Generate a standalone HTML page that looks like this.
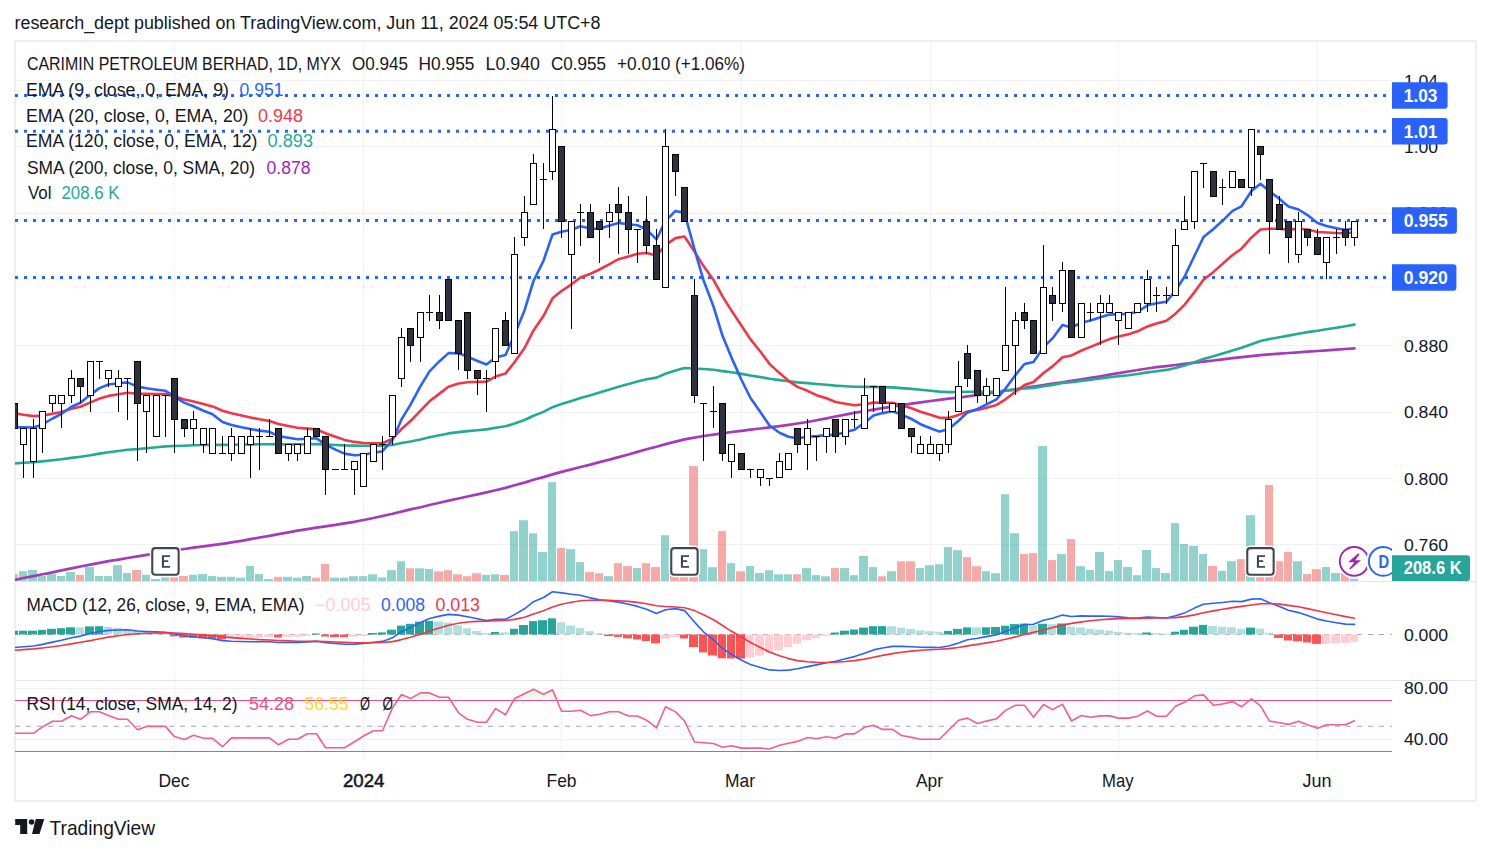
<!DOCTYPE html><html><head><meta charset="utf-8"><style>html,body{margin:0;padding:0;width:1491px;height:854px;overflow:hidden;background:#fff}</style></head><body><svg width="1491" height="854" viewBox="0 0 1491 854" style="position:absolute;left:0;top:0;font-family:'Liberation Sans',sans-serif">
<rect x="0" y="0" width="1491" height="854" fill="#ffffff"/>
<defs><clipPath id="cp"><rect x="15" y="41" width="1377" height="540.5"/></clipPath><clipPath id="cm"><rect x="15" y="582.5" width="1377" height="97.5"/></clipPath><clipPath id="cr"><rect x="15" y="681" width="1377" height="77.5"/></clipPath><linearGradient id="ob" x1="0" y1="0" x2="0" y2="1"><stop offset="0" stop-color="#4caf50" stop-opacity="0.22"/><stop offset="1" stop-color="#4caf50" stop-opacity="0.02"/></linearGradient></defs>
<text x="14.5" y="28.8" font-size="18" fill="#131722" font-weight="normal" text-anchor="start" textLength="586.0" lengthAdjust="spacingAndGlyphs">research_dept published on TradingView.com, Jun 11, 2024 05:54 UTC+8</text>
<line x1="174.5" y1="41" x2="174.5" y2="758.5" stroke="#f1f2f3" stroke-width="1"/>
<line x1="363.5" y1="41" x2="363.5" y2="758.5" stroke="#f1f2f3" stroke-width="1"/>
<line x1="561.5" y1="41" x2="561.5" y2="758.5" stroke="#f1f2f3" stroke-width="1"/>
<line x1="741.5" y1="41" x2="741.5" y2="758.5" stroke="#f1f2f3" stroke-width="1"/>
<line x1="930.5" y1="41" x2="930.5" y2="758.5" stroke="#f1f2f3" stroke-width="1"/>
<line x1="1118.5" y1="41" x2="1118.5" y2="758.5" stroke="#f1f2f3" stroke-width="1"/>
<line x1="1317.5" y1="41" x2="1317.5" y2="758.5" stroke="#f1f2f3" stroke-width="1"/>
<line x1="15" y1="80.5" x2="1392" y2="80.5" stroke="#f1f2f3" stroke-width="1"/>
<line x1="15" y1="146.5" x2="1392" y2="146.5" stroke="#f1f2f3" stroke-width="1"/>
<line x1="15" y1="213.5" x2="1392" y2="213.5" stroke="#f1f2f3" stroke-width="1"/>
<line x1="15" y1="279.5" x2="1392" y2="279.5" stroke="#f1f2f3" stroke-width="1"/>
<line x1="15" y1="345.5" x2="1392" y2="345.5" stroke="#f1f2f3" stroke-width="1"/>
<line x1="15" y1="412.5" x2="1392" y2="412.5" stroke="#f1f2f3" stroke-width="1"/>
<line x1="15" y1="478.5" x2="1392" y2="478.5" stroke="#f1f2f3" stroke-width="1"/>
<line x1="15" y1="544.5" x2="1392" y2="544.5" stroke="#f1f2f3" stroke-width="1"/>
<line x1="15" y1="688.5" x2="1392" y2="688.5" stroke="#f1f2f3" stroke-width="1"/>
<line x1="15" y1="739.5" x2="1392" y2="739.5" stroke="#f1f2f3" stroke-width="1"/>
<line x1="16" y1="581.5" x2="1475" y2="581.5" stroke="#e0e3eb" stroke-width="1"/>
<line x1="16" y1="680.5" x2="1475" y2="680.5" stroke="#e0e3eb" stroke-width="1"/>
<rect x="15" y="41" width="1461" height="760" fill="none" stroke="#eceef2" stroke-width="2"/>
<g clip-path="url(#cp)">
<rect x="10" y="574.1" width="8" height="6.9" fill="rgba(239,83,80,0.5)"/>
<rect x="19" y="571.2" width="8" height="9.8" fill="rgba(38,166,154,0.5)"/>
<rect x="28" y="570.0" width="9" height="11.0" fill="rgba(38,166,154,0.5)"/>
<rect x="38" y="576.0" width="8" height="5.0" fill="rgba(38,166,154,0.5)"/>
<rect x="47" y="574.1" width="9" height="6.9" fill="rgba(38,166,154,0.5)"/>
<rect x="57" y="576.0" width="8" height="5.0" fill="rgba(38,166,154,0.5)"/>
<rect x="66" y="572.0" width="9" height="9.0" fill="rgba(38,166,154,0.5)"/>
<rect x="76" y="574.8" width="8" height="6.2" fill="rgba(239,83,80,0.5)"/>
<rect x="85" y="567.1" width="9" height="13.9" fill="rgba(38,166,154,0.5)"/>
<rect x="95" y="576.0" width="8" height="5.0" fill="rgba(38,166,154,0.5)"/>
<rect x="104" y="576.0" width="8" height="5.0" fill="rgba(38,166,154,0.5)"/>
<rect x="113" y="565.2" width="9" height="15.8" fill="rgba(38,166,154,0.5)"/>
<rect x="123" y="572.9" width="8" height="8.1" fill="rgba(38,166,154,0.5)"/>
<rect x="132" y="570.0" width="9" height="11.0" fill="rgba(239,83,80,0.5)"/>
<rect x="142" y="574.8" width="8" height="6.2" fill="rgba(38,166,154,0.5)"/>
<rect x="151" y="579.0" width="9" height="2.0" fill="rgba(38,166,154,0.5)"/>
<rect x="161" y="577.2" width="8" height="3.8" fill="rgba(38,166,154,0.5)"/>
<rect x="170" y="577.2" width="8" height="3.8" fill="rgba(239,83,80,0.5)"/>
<rect x="179" y="576.0" width="9" height="5.0" fill="rgba(239,83,80,0.5)"/>
<rect x="189" y="574.8" width="8" height="6.2" fill="rgba(38,166,154,0.5)"/>
<rect x="198" y="574.1" width="9" height="6.9" fill="rgba(38,166,154,0.5)"/>
<rect x="208" y="576.0" width="8" height="5.0" fill="rgba(38,166,154,0.5)"/>
<rect x="217" y="576.8" width="9" height="4.2" fill="rgba(38,166,154,0.5)"/>
<rect x="227" y="576.8" width="8" height="4.2" fill="rgba(38,166,154,0.5)"/>
<rect x="236" y="577.7" width="9" height="3.3" fill="rgba(38,166,154,0.5)"/>
<rect x="246" y="565.9" width="8" height="15.1" fill="rgba(38,166,154,0.5)"/>
<rect x="255" y="574.1" width="8" height="6.9" fill="rgba(38,166,154,0.5)"/>
<rect x="264" y="579.0" width="9" height="2.0" fill="rgba(38,166,154,0.5)"/>
<rect x="274" y="576.8" width="8" height="4.2" fill="rgba(239,83,80,0.5)"/>
<rect x="283" y="576.8" width="9" height="4.2" fill="rgba(38,166,154,0.5)"/>
<rect x="293" y="577.7" width="8" height="3.3" fill="rgba(38,166,154,0.5)"/>
<rect x="302" y="576.0" width="9" height="5.0" fill="rgba(38,166,154,0.5)"/>
<rect x="312" y="577.7" width="8" height="3.3" fill="rgba(239,83,80,0.5)"/>
<rect x="321" y="564.0" width="8" height="17.0" fill="rgba(239,83,80,0.5)"/>
<rect x="330" y="577.7" width="9" height="3.3" fill="rgba(38,166,154,0.5)"/>
<rect x="340" y="577.7" width="8" height="3.3" fill="rgba(38,166,154,0.5)"/>
<rect x="349" y="576.2" width="9" height="4.8" fill="rgba(38,166,154,0.5)"/>
<rect x="359" y="576.2" width="8" height="4.8" fill="rgba(38,166,154,0.5)"/>
<rect x="368" y="574.3" width="9" height="6.7" fill="rgba(38,166,154,0.5)"/>
<rect x="378" y="577.4" width="8" height="3.6" fill="rgba(38,166,154,0.5)"/>
<rect x="387" y="570.2" width="9" height="10.8" fill="rgba(38,166,154,0.5)"/>
<rect x="397" y="561.3" width="8" height="19.7" fill="rgba(38,166,154,0.5)"/>
<rect x="406" y="568.3" width="8" height="12.7" fill="rgba(239,83,80,0.5)"/>
<rect x="415" y="568.3" width="9" height="12.7" fill="rgba(38,166,154,0.5)"/>
<rect x="425" y="569.0" width="8" height="12.0" fill="rgba(38,166,154,0.5)"/>
<rect x="434" y="571.4" width="9" height="9.6" fill="rgba(239,83,80,0.5)"/>
<rect x="444" y="570.2" width="8" height="10.8" fill="rgba(239,83,80,0.5)"/>
<rect x="453" y="574.3" width="9" height="6.7" fill="rgba(239,83,80,0.5)"/>
<rect x="463" y="576.2" width="8" height="4.8" fill="rgba(239,83,80,0.5)"/>
<rect x="472" y="573.3" width="9" height="7.7" fill="rgba(239,83,80,0.5)"/>
<rect x="482" y="575.0" width="8" height="6.0" fill="rgba(38,166,154,0.5)"/>
<rect x="491" y="574.3" width="8" height="6.7" fill="rgba(38,166,154,0.5)"/>
<rect x="500" y="575.0" width="9" height="6.0" fill="rgba(239,83,80,0.5)"/>
<rect x="510" y="531.1" width="8" height="49.9" fill="rgba(38,166,154,0.5)"/>
<rect x="519" y="520.2" width="9" height="60.8" fill="rgba(38,166,154,0.5)"/>
<rect x="529" y="533.3" width="8" height="47.7" fill="rgba(38,166,154,0.5)"/>
<rect x="538" y="552.1" width="9" height="28.9" fill="rgba(38,166,154,0.5)"/>
<rect x="548" y="482.1" width="8" height="98.9" fill="rgba(38,166,154,0.5)"/>
<rect x="557" y="548.0" width="8" height="33.0" fill="rgba(239,83,80,0.5)"/>
<rect x="566" y="549.2" width="9" height="31.8" fill="rgba(38,166,154,0.5)"/>
<rect x="576" y="562.2" width="8" height="18.8" fill="rgba(38,166,154,0.5)"/>
<rect x="585" y="572.1" width="9" height="8.9" fill="rgba(239,83,80,0.5)"/>
<rect x="595" y="573.3" width="8" height="7.7" fill="rgba(239,83,80,0.5)"/>
<rect x="604" y="576.2" width="9" height="4.8" fill="rgba(38,166,154,0.5)"/>
<rect x="614" y="563.2" width="8" height="17.8" fill="rgba(239,83,80,0.5)"/>
<rect x="623" y="566.1" width="9" height="14.9" fill="rgba(239,83,80,0.5)"/>
<rect x="633" y="568.0" width="8" height="13.0" fill="rgba(38,166,154,0.5)"/>
<rect x="642" y="563.2" width="8" height="17.8" fill="rgba(239,83,80,0.5)"/>
<rect x="651" y="567.1" width="9" height="13.9" fill="rgba(239,83,80,0.5)"/>
<rect x="661" y="535.2" width="8" height="45.8" fill="rgba(38,166,154,0.5)"/>
<rect x="670" y="565.0" width="9" height="16.0" fill="rgba(239,83,80,0.5)"/>
<rect x="680" y="565.0" width="8" height="16.0" fill="rgba(239,83,80,0.5)"/>
<rect x="689" y="466.1" width="9" height="114.9" fill="rgba(239,83,80,0.5)"/>
<rect x="699" y="549.2" width="8" height="31.8" fill="rgba(38,166,154,0.5)"/>
<rect x="708" y="567.2" width="9" height="13.8" fill="rgba(38,166,154,0.5)"/>
<rect x="718" y="531.1" width="8" height="49.9" fill="rgba(239,83,80,0.5)"/>
<rect x="727" y="563.1" width="8" height="17.9" fill="rgba(38,166,154,0.5)"/>
<rect x="736" y="571.3" width="9" height="9.7" fill="rgba(239,83,80,0.5)"/>
<rect x="746" y="566.0" width="8" height="15.0" fill="rgba(38,166,154,0.5)"/>
<rect x="755" y="573.0" width="9" height="8.0" fill="rgba(38,166,154,0.5)"/>
<rect x="765" y="570.2" width="8" height="10.8" fill="rgba(38,166,154,0.5)"/>
<rect x="774" y="574.3" width="9" height="6.7" fill="rgba(38,166,154,0.5)"/>
<rect x="784" y="574.3" width="8" height="6.7" fill="rgba(38,166,154,0.5)"/>
<rect x="793" y="574.3" width="8" height="6.7" fill="rgba(239,83,80,0.5)"/>
<rect x="802" y="568.1" width="9" height="12.9" fill="rgba(38,166,154,0.5)"/>
<rect x="812" y="575.1" width="8" height="5.9" fill="rgba(38,166,154,0.5)"/>
<rect x="821" y="576.3" width="9" height="4.7" fill="rgba(38,166,154,0.5)"/>
<rect x="831" y="568.1" width="8" height="12.9" fill="rgba(239,83,80,0.5)"/>
<rect x="840" y="568.1" width="9" height="12.9" fill="rgba(38,166,154,0.5)"/>
<rect x="850" y="575.1" width="8" height="5.9" fill="rgba(38,166,154,0.5)"/>
<rect x="859" y="556.0" width="9" height="25.0" fill="rgba(38,166,154,0.5)"/>
<rect x="869" y="567.1" width="8" height="13.9" fill="rgba(38,166,154,0.5)"/>
<rect x="878" y="576.3" width="8" height="4.7" fill="rgba(239,83,80,0.5)"/>
<rect x="887" y="571.2" width="9" height="9.8" fill="rgba(38,166,154,0.5)"/>
<rect x="897" y="561.3" width="8" height="19.7" fill="rgba(239,83,80,0.5)"/>
<rect x="906" y="561.3" width="9" height="19.7" fill="rgba(239,83,80,0.5)"/>
<rect x="916" y="568.1" width="8" height="12.9" fill="rgba(38,166,154,0.5)"/>
<rect x="925" y="565.2" width="9" height="15.8" fill="rgba(38,166,154,0.5)"/>
<rect x="935" y="564.2" width="8" height="16.8" fill="rgba(38,166,154,0.5)"/>
<rect x="944" y="547.1" width="8" height="33.9" fill="rgba(38,166,154,0.5)"/>
<rect x="953" y="550.2" width="9" height="30.8" fill="rgba(38,166,154,0.5)"/>
<rect x="963" y="557.2" width="8" height="23.8" fill="rgba(239,83,80,0.5)"/>
<rect x="972" y="566.2" width="9" height="14.8" fill="rgba(239,83,80,0.5)"/>
<rect x="982" y="571.2" width="8" height="9.8" fill="rgba(38,166,154,0.5)"/>
<rect x="991" y="573.2" width="9" height="7.8" fill="rgba(38,166,154,0.5)"/>
<rect x="1001" y="494.2" width="8" height="86.8" fill="rgba(38,166,154,0.5)"/>
<rect x="1010" y="533.1" width="9" height="47.9" fill="rgba(38,166,154,0.5)"/>
<rect x="1020" y="554.1" width="8" height="26.9" fill="rgba(239,83,80,0.5)"/>
<rect x="1029" y="553.1" width="8" height="27.9" fill="rgba(239,83,80,0.5)"/>
<rect x="1038" y="446.1" width="9" height="134.9" fill="rgba(38,166,154,0.5)"/>
<rect x="1048" y="560.1" width="8" height="20.9" fill="rgba(239,83,80,0.5)"/>
<rect x="1057" y="554.1" width="9" height="26.9" fill="rgba(38,166,154,0.5)"/>
<rect x="1067" y="539.1" width="8" height="41.9" fill="rgba(239,83,80,0.5)"/>
<rect x="1076" y="566.2" width="9" height="14.8" fill="rgba(38,166,154,0.5)"/>
<rect x="1086" y="570.0" width="8" height="11.0" fill="rgba(38,166,154,0.5)"/>
<rect x="1095" y="552.0" width="9" height="29.0" fill="rgba(38,166,154,0.5)"/>
<rect x="1105" y="571.1" width="8" height="9.9" fill="rgba(38,166,154,0.5)"/>
<rect x="1114" y="560.1" width="8" height="20.9" fill="rgba(38,166,154,0.5)"/>
<rect x="1123" y="567.0" width="9" height="14.0" fill="rgba(38,166,154,0.5)"/>
<rect x="1133" y="575.2" width="8" height="5.8" fill="rgba(38,166,154,0.5)"/>
<rect x="1142" y="550.0" width="9" height="31.0" fill="rgba(38,166,154,0.5)"/>
<rect x="1152" y="568.1" width="8" height="12.9" fill="rgba(38,166,154,0.5)"/>
<rect x="1161" y="573.0" width="9" height="8.0" fill="rgba(38,166,154,0.5)"/>
<rect x="1171" y="523.0" width="8" height="58.0" fill="rgba(38,166,154,0.5)"/>
<rect x="1180" y="544.0" width="8" height="37.0" fill="rgba(38,166,154,0.5)"/>
<rect x="1189" y="545.8" width="9" height="35.2" fill="rgba(38,166,154,0.5)"/>
<rect x="1199" y="554.0" width="8" height="27.0" fill="rgba(38,166,154,0.5)"/>
<rect x="1208" y="566.0" width="9" height="15.0" fill="rgba(239,83,80,0.5)"/>
<rect x="1218" y="570.9" width="8" height="10.1" fill="rgba(38,166,154,0.5)"/>
<rect x="1227" y="561.2" width="9" height="19.8" fill="rgba(38,166,154,0.5)"/>
<rect x="1237" y="559.1" width="8" height="21.9" fill="rgba(239,83,80,0.5)"/>
<rect x="1246" y="515.1" width="9" height="65.9" fill="rgba(38,166,154,0.5)"/>
<rect x="1256" y="565.0" width="8" height="16.0" fill="rgba(239,83,80,0.5)"/>
<rect x="1265" y="485.0" width="8" height="96.0" fill="rgba(239,83,80,0.5)"/>
<rect x="1274" y="561.2" width="9" height="19.8" fill="rgba(239,83,80,0.5)"/>
<rect x="1284" y="552.0" width="8" height="29.0" fill="rgba(239,83,80,0.5)"/>
<rect x="1293" y="561.2" width="9" height="19.8" fill="rgba(38,166,154,0.5)"/>
<rect x="1303" y="574.1" width="8" height="6.9" fill="rgba(239,83,80,0.5)"/>
<rect x="1312" y="569.2" width="9" height="11.8" fill="rgba(239,83,80,0.5)"/>
<rect x="1322" y="567.0" width="8" height="14.0" fill="rgba(38,166,154,0.5)"/>
<rect x="1331" y="573.0" width="9" height="8.0" fill="rgba(38,166,154,0.5)"/>
<rect x="1341" y="573.0" width="8" height="8.0" fill="rgba(239,83,80,0.5)"/>
<rect x="1350" y="578.4" width="8" height="2.6" fill="rgba(38,166,154,0.5)"/>
<line x1="15" y1="95.5" x2="1392" y2="95.5" stroke="#2962ff" stroke-width="2.9" stroke-dasharray="3 6"/>
<line x1="15" y1="131.3" x2="1392" y2="131.3" stroke="#2962ff" stroke-width="2.9" stroke-dasharray="3 6"/>
<line x1="15" y1="220.5" x2="1392" y2="220.5" stroke="#2962ff" stroke-width="2.9" stroke-dasharray="3 6"/>
<line x1="15" y1="277.5" x2="1392" y2="277.5" stroke="#2962ff" stroke-width="2.9" stroke-dasharray="3 6"/>
<polyline points="14.0,580.0 14.5,579.9 23.5,578.0 33.5,576.1 42.5,574.2 52.5,572.3 61.5,570.4 71.5,568.4 80.5,566.5 90.5,564.7 99.5,562.9 108.5,561.2 118.5,559.6 127.5,558.0 137.5,556.4 146.5,554.8 156.5,553.3 165.5,551.8 174.5,550.4 184.5,549.0 193.5,547.7 203.5,546.4 212.5,545.2 222.5,543.8 231.5,542.4 241.5,540.8 250.5,539.2 259.5,537.5 269.5,535.8 278.5,534.1 288.5,532.4 297.5,530.7 307.5,529.2 316.5,527.7 325.5,526.3 335.5,524.9 344.5,523.4 354.5,521.8 363.5,520.0 373.5,518.0 382.5,516.0 392.5,513.8 401.5,511.6 410.5,509.4 420.5,507.2 429.5,505.0 439.5,502.7 448.5,500.6 458.5,498.5 467.5,496.5 477.5,494.4 486.5,492.4 495.5,490.2 505.5,487.9 514.5,485.3 524.5,482.6 533.5,479.8 543.5,477.1 552.5,474.4 561.5,471.9 571.5,469.4 580.5,467.0 590.5,464.6 599.5,462.1 609.5,459.6 618.5,457.1 628.5,454.5 637.5,451.9 646.5,449.3 656.5,446.7 665.5,444.1 675.5,441.6 684.5,439.4 694.5,437.6 703.5,436.0 713.5,434.6 722.5,433.3 731.5,432.0 741.5,430.8 750.5,429.7 760.5,428.5 769.5,427.3 779.5,426.1 788.5,424.9 797.5,423.5 807.5,422.0 816.5,420.2 826.5,418.3 835.5,416.5 845.5,414.6 854.5,412.8 864.5,411.2 873.5,409.7 882.5,408.2 892.5,406.7 901.5,405.2 911.5,403.7 920.5,402.3 930.5,401.0 939.5,399.8 948.5,398.7 958.5,397.6 967.5,396.4 977.5,395.0 986.5,393.6 996.5,392.2 1005.5,390.7 1015.5,389.3 1024.5,387.9 1033.5,386.5 1043.5,385.1 1052.5,383.7 1062.5,382.3 1071.5,380.8 1081.5,379.4 1090.5,377.9 1100.5,376.3 1109.5,374.7 1118.5,373.1 1128.5,371.5 1137.5,370.0 1147.5,368.5 1156.5,367.2 1166.5,366.1 1175.5,365.0 1184.5,363.8 1194.5,362.7 1203.5,361.6 1213.5,360.5 1222.5,359.4 1232.5,358.2 1241.5,357.1 1251.5,356.1 1260.5,355.2 1269.5,354.4 1279.5,353.7 1288.5,353.0 1298.5,352.3 1307.5,351.7 1317.5,351.0 1326.5,350.3 1336.5,349.6 1345.5,349.0 1354.5,348.3" fill="none" stroke="#a43bbb" stroke-width="2.7" stroke-linejoin="round" stroke-linecap="round"/>
<polyline points="14.5,463.4 23.5,462.8 33.5,462.3 42.5,461.4 52.5,460.3 61.5,459.3 71.5,457.9 80.5,456.7 90.5,455.2 99.5,453.6 108.5,452.3 118.5,451.0 127.5,449.8 137.5,449.1 146.5,448.2 156.5,447.3 165.5,446.4 174.5,446.0 184.5,445.7 193.5,445.3 203.5,445.0 212.5,444.7 222.5,444.9 231.5,444.7 241.5,444.6 250.5,444.5 259.5,444.3 269.5,444.2 278.5,444.4 288.5,444.4 297.5,444.4 307.5,444.2 316.5,444.1 325.5,444.5 335.5,445.0 344.5,445.4 354.5,445.6 363.5,445.8 373.5,445.7 382.5,445.7 392.5,444.9 401.5,443.1 410.5,441.5 420.5,439.4 429.5,437.3 439.5,435.3 448.5,433.4 458.5,432.1 467.5,431.1 477.5,430.2 486.5,429.4 495.5,427.7 505.5,426.3 514.5,423.5 524.5,420.0 533.5,415.8 543.5,411.9 552.5,407.2 561.5,404.1 571.5,401.1 580.5,398.0 590.5,395.3 599.5,392.6 609.5,389.6 618.5,386.7 628.5,384.1 637.5,381.5 646.5,379.3 656.5,377.6 665.5,373.8 675.5,370.5 684.5,368.0 694.5,368.5 703.5,369.0 713.5,369.7 722.5,371.1 731.5,372.3 741.5,373.9 750.5,375.5 760.5,377.1 769.5,378.8 779.5,380.1 788.5,381.3 797.5,382.4 807.5,383.1 816.5,384.0 826.5,384.8 835.5,385.6 845.5,386.2 854.5,386.7 864.5,386.9 873.5,386.9 882.5,387.1 892.5,387.4 901.5,388.1 911.5,388.9 920.5,389.8 930.5,390.7 939.5,391.6 948.5,392.1 958.5,392.0 967.5,391.8 977.5,391.8 986.5,391.8 996.5,391.5 1005.5,390.8 1015.5,389.6 1024.5,388.5 1033.5,387.9 1043.5,386.2 1052.5,384.9 1062.5,383.0 1071.5,382.2 1081.5,380.9 1090.5,379.8 1100.5,378.5 1109.5,377.3 1118.5,376.2 1128.5,375.2 1137.5,374.0 1147.5,372.4 1156.5,371.2 1166.5,369.9 1175.5,367.9 1184.5,365.4 1194.5,362.2 1203.5,358.9 1213.5,356.3 1222.5,353.5 1232.5,350.5 1241.5,347.8 1251.5,344.2 1260.5,341.0 1269.5,339.1 1279.5,337.2 1288.5,335.6 1298.5,333.7 1307.5,332.1 1317.5,330.8 1326.5,329.3 1336.5,327.8 1345.5,326.3 1354.5,324.6" fill="none" stroke="#22ab94" stroke-width="2.6" stroke-linejoin="round" stroke-linecap="round"/>
<polyline points="14.5,413.4 23.5,414.8 33.5,416.1 42.5,415.6 52.5,413.7 61.5,411.9 71.5,408.7 80.5,406.7 90.5,402.4 99.5,398.6 108.5,395.9 118.5,394.2 127.5,392.7 137.5,393.7 146.5,393.9 156.5,394.0 165.5,394.1 174.5,396.6 184.5,399.6 193.5,401.5 203.5,404.1 212.5,406.4 222.5,410.8 231.5,413.3 241.5,415.5 250.5,417.5 259.5,419.3 269.5,421.0 278.5,424.0 288.5,426.0 297.5,427.8 307.5,428.6 316.5,429.4 325.5,433.2 335.5,436.7 344.5,439.9 354.5,441.9 363.5,443.0 373.5,443.2 382.5,443.3 392.5,438.7 401.5,429.0 410.5,421.1 420.5,410.7 429.5,401.3 439.5,393.6 448.5,386.7 458.5,383.5 467.5,382.3 477.5,381.9 486.5,381.6 495.5,376.6 505.5,373.6 514.5,362.2 524.5,348.0 533.5,330.4 543.5,316.0 552.5,298.3 561.5,291.0 571.5,284.3 580.5,277.5 590.5,273.7 599.5,269.5 609.5,264.1 618.5,259.2 628.5,256.4 637.5,253.8 646.5,253.0 656.5,255.5 665.5,245.1 675.5,238.1 684.5,236.5 694.5,251.6 703.5,266.1 713.5,279.9 722.5,296.4 731.5,310.6 741.5,325.7 750.5,339.4 760.5,351.8 769.5,363.9 779.5,373.1 788.5,380.8 797.5,386.9 807.5,390.8 816.5,395.2 826.5,398.3 835.5,402.0 845.5,403.7 854.5,405.2 864.5,404.3 873.5,402.6 882.5,402.7 892.5,402.8 901.5,405.2 911.5,408.2 920.5,411.7 930.5,414.8 939.5,417.7 948.5,417.9 958.5,414.9 967.5,411.5 977.5,409.9 986.5,407.7 996.5,404.9 1005.5,399.3 1015.5,391.8 1024.5,385.0 1033.5,382.0 1043.5,373.0 1052.5,366.4 1062.5,357.3 1071.5,355.4 1081.5,350.5 1090.5,346.9 1100.5,342.8 1109.5,339.1 1118.5,336.5 1128.5,334.2 1137.5,331.3 1147.5,326.4 1156.5,323.4 1166.5,320.8 1175.5,313.7 1184.5,304.8 1194.5,292.1 1203.5,279.8 1213.5,271.9 1222.5,263.9 1232.5,255.1 1241.5,248.7 1251.5,237.4 1260.5,229.5 1269.5,228.7 1279.5,228.8 1288.5,229.6 1298.5,228.8 1307.5,229.6 1317.5,232.0 1326.5,232.5 1336.5,233.0 1345.5,233.5 1354.5,232.3" fill="none" stroke="#f23645" stroke-width="2.6" stroke-linejoin="round" stroke-linecap="round"/>
<polyline points="14.5,427.1 23.5,427.3 33.5,427.5 42.5,424.4 52.5,418.5 61.5,413.8 71.5,406.8 80.5,402.8 90.5,394.6 99.5,388.1 108.5,384.5 118.5,383.3 127.5,382.4 137.5,386.6 146.5,388.3 156.5,389.7 165.5,390.8 174.5,396.6 184.5,402.9 193.5,406.3 203.5,410.7 212.5,414.2 222.5,422.0 231.5,424.9 241.5,427.3 250.5,429.1 259.5,430.6 269.5,431.8 278.5,436.1 288.5,437.8 297.5,439.2 307.5,438.7 316.5,438.3 325.5,444.6 335.5,449.6 344.5,453.6 354.5,455.2 363.5,454.8 373.5,452.8 382.5,451.2 392.5,440.0 401.5,419.4 410.5,404.6 420.5,386.1 429.5,371.4 439.5,361.2 448.5,353.1 458.5,353.2 467.5,356.6 477.5,361.0 486.5,364.5 495.5,357.4 505.5,355.0 514.5,334.8 524.5,310.4 533.5,281.0 543.5,260.7 552.5,234.5 561.5,231.8 571.5,229.7 580.5,226.3 590.5,228.6 599.5,228.7 609.5,225.6 618.5,223.0 628.5,224.3 637.5,225.3 646.5,229.4 656.5,239.4 665.5,220.8 675.5,210.9 684.5,212.9 694.5,249.4 703.5,280.2 713.5,306.5 722.5,335.8 731.5,357.6 741.5,380.0 750.5,398.0 760.5,412.3 769.5,425.5 779.5,432.7 788.5,436.7 797.5,438.4 807.5,436.4 816.5,436.4 826.5,434.8 835.5,435.1 845.5,432.1 854.5,429.7 864.5,422.8 873.5,415.6 882.5,413.1 892.5,411.2 901.5,414.6 911.5,419.0 920.5,424.2 930.5,428.3 939.5,431.6 948.5,429.3 958.5,420.8 967.5,412.4 977.5,408.9 986.5,404.5 996.5,399.3 1005.5,388.5 1015.5,374.9 1024.5,364.0 1033.5,362.0 1043.5,347.1 1052.5,338.4 1062.5,324.9 1071.5,327.4 1081.5,322.7 1090.5,320.6 1100.5,317.3 1109.5,314.6 1118.5,314.1 1128.5,313.8 1137.5,311.8 1147.5,305.3 1156.5,303.3 1166.5,301.8 1175.5,290.6 1184.5,276.7 1194.5,255.7 1203.5,237.1 1213.5,229.0 1222.5,220.8 1232.5,210.9 1241.5,206.3 1251.5,191.0 1260.5,183.8 1269.5,191.2 1279.5,198.9 1288.5,206.6 1298.5,209.5 1307.5,215.1 1317.5,223.0 1326.5,225.9 1336.5,228.3 1345.5,230.1 1354.5,228.3" fill="none" stroke="#2962ff" stroke-width="2.6" stroke-linejoin="round" stroke-linecap="round"/>
<rect x="14" y="403" width="1" height="25" fill="#000"/>
<rect x="11" y="403" width="7" height="26" fill="#000"/>
<rect x="12" y="404" width="5" height="24" fill="#2e3240"/>
<rect x="23" y="428" width="1" height="50" fill="#000"/>
<rect x="20" y="428" width="7" height="17" fill="#000"/>
<rect x="21" y="429" width="5" height="15" fill="#ffffff"/>
<rect x="33" y="419" width="1" height="59" fill="#000"/>
<rect x="30" y="428" width="7" height="34" fill="#000"/>
<rect x="31" y="429" width="5" height="32" fill="#ffffff"/>
<rect x="42" y="411" width="1" height="42" fill="#000"/>
<rect x="39" y="411" width="7" height="18" fill="#000"/>
<rect x="40" y="412" width="5" height="16" fill="#ffffff"/>
<rect x="52" y="395" width="1" height="17" fill="#000"/>
<rect x="49" y="395" width="7" height="9" fill="#000"/>
<rect x="50" y="396" width="5" height="7" fill="#ffffff"/>
<rect x="61" y="395" width="1" height="33" fill="#000"/>
<rect x="58" y="395" width="7" height="9" fill="#000"/>
<rect x="59" y="396" width="5" height="7" fill="#ffffff"/>
<rect x="71" y="370" width="1" height="33" fill="#000"/>
<rect x="68" y="378" width="7" height="18" fill="#000"/>
<rect x="69" y="379" width="5" height="16" fill="#ffffff"/>
<rect x="80" y="378" width="1" height="25" fill="#000"/>
<rect x="77" y="378" width="7" height="9" fill="#000"/>
<rect x="78" y="379" width="5" height="7" fill="#2e3240"/>
<rect x="90" y="361" width="1" height="51" fill="#000"/>
<rect x="87" y="361" width="7" height="35" fill="#000"/>
<rect x="88" y="362" width="5" height="33" fill="#ffffff"/>
<rect x="99" y="361" width="1" height="18" fill="#000"/>
<rect x="96" y="361" width="7" height="1" fill="#000"/>
<rect x="108" y="370" width="1" height="17" fill="#000"/>
<rect x="105" y="370" width="7" height="9" fill="#000"/>
<rect x="106" y="371" width="5" height="7" fill="#ffffff"/>
<rect x="118" y="370" width="1" height="42" fill="#000"/>
<rect x="115" y="378" width="7" height="9" fill="#000"/>
<rect x="116" y="379" width="5" height="7" fill="#ffffff"/>
<rect x="127" y="378" width="1" height="42" fill="#000"/>
<rect x="124" y="378" width="7" height="1" fill="#000"/>
<rect x="137" y="361" width="1" height="100" fill="#000"/>
<rect x="134" y="361" width="7" height="43" fill="#000"/>
<rect x="135" y="362" width="5" height="41" fill="#2e3240"/>
<rect x="146" y="395" width="1" height="58" fill="#000"/>
<rect x="143" y="395" width="7" height="17" fill="#000"/>
<rect x="144" y="396" width="5" height="15" fill="#ffffff"/>
<rect x="156" y="395" width="1" height="42" fill="#000"/>
<rect x="153" y="395" width="7" height="42" fill="#000"/>
<rect x="154" y="396" width="5" height="40" fill="#ffffff"/>
<rect x="165" y="395" width="1" height="42" fill="#000"/>
<rect x="162" y="395" width="7" height="1" fill="#000"/>
<rect x="174" y="378" width="1" height="75" fill="#000"/>
<rect x="171" y="378" width="7" height="42" fill="#000"/>
<rect x="172" y="379" width="5" height="40" fill="#2e3240"/>
<rect x="184" y="419" width="1" height="18" fill="#000"/>
<rect x="181" y="419" width="7" height="10" fill="#000"/>
<rect x="182" y="420" width="5" height="8" fill="#2e3240"/>
<rect x="193" y="411" width="1" height="34" fill="#000"/>
<rect x="190" y="419" width="7" height="10" fill="#000"/>
<rect x="191" y="420" width="5" height="8" fill="#ffffff"/>
<rect x="203" y="428" width="1" height="25" fill="#000"/>
<rect x="200" y="428" width="7" height="17" fill="#000"/>
<rect x="201" y="429" width="5" height="15" fill="#ffffff"/>
<rect x="212" y="428" width="1" height="25" fill="#000"/>
<rect x="209" y="428" width="7" height="26" fill="#000"/>
<rect x="210" y="429" width="5" height="24" fill="#ffffff"/>
<rect x="222" y="436" width="1" height="17" fill="#000"/>
<rect x="219" y="453" width="7" height="1" fill="#000"/>
<rect x="231" y="428" width="1" height="33" fill="#000"/>
<rect x="228" y="436" width="7" height="18" fill="#000"/>
<rect x="229" y="437" width="5" height="16" fill="#ffffff"/>
<rect x="241" y="436" width="1" height="17" fill="#000"/>
<rect x="238" y="436" width="7" height="18" fill="#000"/>
<rect x="239" y="437" width="5" height="16" fill="#ffffff"/>
<rect x="250" y="428" width="1" height="50" fill="#000"/>
<rect x="247" y="436" width="7" height="9" fill="#000"/>
<rect x="248" y="437" width="5" height="7" fill="#ffffff"/>
<rect x="259" y="428" width="1" height="42" fill="#000"/>
<rect x="256" y="436" width="7" height="1" fill="#000"/>
<rect x="269" y="419" width="1" height="18" fill="#000"/>
<rect x="266" y="436" width="7" height="1" fill="#000"/>
<rect x="278" y="428" width="1" height="25" fill="#000"/>
<rect x="275" y="428" width="7" height="26" fill="#000"/>
<rect x="276" y="429" width="5" height="24" fill="#2e3240"/>
<rect x="288" y="444" width="1" height="17" fill="#000"/>
<rect x="285" y="444" width="7" height="10" fill="#000"/>
<rect x="286" y="445" width="5" height="8" fill="#ffffff"/>
<rect x="297" y="444" width="1" height="17" fill="#000"/>
<rect x="294" y="444" width="7" height="10" fill="#000"/>
<rect x="295" y="445" width="5" height="8" fill="#ffffff"/>
<rect x="307" y="428" width="1" height="25" fill="#000"/>
<rect x="304" y="436" width="7" height="18" fill="#000"/>
<rect x="305" y="437" width="5" height="16" fill="#ffffff"/>
<rect x="316" y="428" width="1" height="9" fill="#000"/>
<rect x="313" y="428" width="7" height="9" fill="#000"/>
<rect x="314" y="429" width="5" height="7" fill="#2e3240"/>
<rect x="325" y="436" width="1" height="59" fill="#000"/>
<rect x="322" y="436" width="7" height="34" fill="#000"/>
<rect x="323" y="437" width="5" height="32" fill="#2e3240"/>
<rect x="335" y="469" width="1" height="1" fill="#000"/>
<rect x="332" y="469" width="7" height="1" fill="#000"/>
<rect x="344" y="444" width="1" height="26" fill="#000"/>
<rect x="341" y="469" width="7" height="1" fill="#000"/>
<rect x="354" y="461" width="1" height="34" fill="#000"/>
<rect x="351" y="461" width="7" height="9" fill="#000"/>
<rect x="352" y="462" width="5" height="7" fill="#ffffff"/>
<rect x="363" y="453" width="1" height="33" fill="#000"/>
<rect x="360" y="453" width="7" height="34" fill="#000"/>
<rect x="361" y="454" width="5" height="32" fill="#ffffff"/>
<rect x="373" y="444" width="1" height="17" fill="#000"/>
<rect x="370" y="444" width="7" height="18" fill="#000"/>
<rect x="371" y="445" width="5" height="16" fill="#ffffff"/>
<rect x="382" y="436" width="1" height="34" fill="#000"/>
<rect x="379" y="444" width="7" height="1" fill="#000"/>
<rect x="392" y="395" width="1" height="50" fill="#000"/>
<rect x="389" y="395" width="7" height="42" fill="#000"/>
<rect x="390" y="396" width="5" height="40" fill="#ffffff"/>
<rect x="401" y="328" width="1" height="59" fill="#000"/>
<rect x="398" y="337" width="7" height="42" fill="#000"/>
<rect x="399" y="338" width="5" height="40" fill="#ffffff"/>
<rect x="410" y="328" width="1" height="34" fill="#000"/>
<rect x="407" y="328" width="7" height="18" fill="#000"/>
<rect x="408" y="329" width="5" height="16" fill="#2e3240"/>
<rect x="420" y="312" width="1" height="50" fill="#000"/>
<rect x="417" y="312" width="7" height="26" fill="#000"/>
<rect x="418" y="313" width="5" height="24" fill="#ffffff"/>
<rect x="429" y="295" width="1" height="26" fill="#000"/>
<rect x="426" y="312" width="7" height="1" fill="#000"/>
<rect x="439" y="295" width="1" height="34" fill="#000"/>
<rect x="436" y="312" width="7" height="9" fill="#000"/>
<rect x="437" y="313" width="5" height="7" fill="#2e3240"/>
<rect x="448" y="279" width="1" height="42" fill="#000"/>
<rect x="445" y="279" width="7" height="42" fill="#000"/>
<rect x="446" y="280" width="5" height="40" fill="#2e3240"/>
<rect x="458" y="320" width="1" height="50" fill="#000"/>
<rect x="455" y="320" width="7" height="34" fill="#000"/>
<rect x="456" y="321" width="5" height="32" fill="#2e3240"/>
<rect x="467" y="312" width="1" height="67" fill="#000"/>
<rect x="464" y="312" width="7" height="59" fill="#000"/>
<rect x="465" y="313" width="5" height="57" fill="#2e3240"/>
<rect x="477" y="370" width="1" height="25" fill="#000"/>
<rect x="474" y="370" width="7" height="9" fill="#000"/>
<rect x="475" y="371" width="5" height="7" fill="#2e3240"/>
<rect x="486" y="370" width="1" height="42" fill="#000"/>
<rect x="483" y="378" width="7" height="1" fill="#000"/>
<rect x="495" y="328" width="1" height="51" fill="#000"/>
<rect x="492" y="328" width="7" height="34" fill="#000"/>
<rect x="493" y="329" width="5" height="32" fill="#ffffff"/>
<rect x="505" y="312" width="1" height="33" fill="#000"/>
<rect x="502" y="320" width="7" height="26" fill="#000"/>
<rect x="503" y="321" width="5" height="24" fill="#2e3240"/>
<rect x="514" y="237" width="1" height="117" fill="#000"/>
<rect x="511" y="254" width="7" height="100" fill="#000"/>
<rect x="512" y="255" width="5" height="98" fill="#ffffff"/>
<rect x="524" y="196" width="1" height="50" fill="#000"/>
<rect x="521" y="212" width="7" height="26" fill="#000"/>
<rect x="522" y="213" width="5" height="24" fill="#ffffff"/>
<rect x="533" y="154" width="1" height="51" fill="#000"/>
<rect x="530" y="163" width="7" height="42" fill="#000"/>
<rect x="531" y="164" width="5" height="40" fill="#ffffff"/>
<rect x="543" y="163" width="1" height="66" fill="#000"/>
<rect x="540" y="179" width="7" height="1" fill="#000"/>
<rect x="552" y="96" width="1" height="84" fill="#000"/>
<rect x="549" y="129" width="7" height="43" fill="#000"/>
<rect x="550" y="130" width="5" height="41" fill="#ffffff"/>
<rect x="561" y="146" width="1" height="92" fill="#000"/>
<rect x="558" y="146" width="7" height="76" fill="#000"/>
<rect x="559" y="147" width="5" height="74" fill="#2e3240"/>
<rect x="571" y="221" width="1" height="108" fill="#000"/>
<rect x="568" y="221" width="7" height="34" fill="#000"/>
<rect x="569" y="222" width="5" height="32" fill="#ffffff"/>
<rect x="580" y="204" width="1" height="42" fill="#000"/>
<rect x="577" y="212" width="7" height="1" fill="#000"/>
<rect x="590" y="204" width="1" height="34" fill="#000"/>
<rect x="587" y="212" width="7" height="26" fill="#000"/>
<rect x="588" y="213" width="5" height="24" fill="#2e3240"/>
<rect x="599" y="221" width="1" height="42" fill="#000"/>
<rect x="596" y="221" width="7" height="9" fill="#000"/>
<rect x="597" y="222" width="5" height="7" fill="#2e3240"/>
<rect x="609" y="204" width="1" height="34" fill="#000"/>
<rect x="606" y="212" width="7" height="10" fill="#000"/>
<rect x="607" y="213" width="5" height="8" fill="#ffffff"/>
<rect x="618" y="187" width="1" height="67" fill="#000"/>
<rect x="615" y="204" width="7" height="9" fill="#000"/>
<rect x="616" y="205" width="5" height="7" fill="#2e3240"/>
<rect x="628" y="196" width="1" height="58" fill="#000"/>
<rect x="625" y="212" width="7" height="18" fill="#000"/>
<rect x="626" y="213" width="5" height="16" fill="#2e3240"/>
<rect x="637" y="229" width="1" height="34" fill="#000"/>
<rect x="634" y="229" width="7" height="1" fill="#000"/>
<rect x="646" y="196" width="1" height="58" fill="#000"/>
<rect x="643" y="221" width="7" height="25" fill="#000"/>
<rect x="644" y="222" width="5" height="23" fill="#2e3240"/>
<rect x="656" y="229" width="1" height="50" fill="#000"/>
<rect x="653" y="245" width="7" height="35" fill="#000"/>
<rect x="654" y="246" width="5" height="33" fill="#2e3240"/>
<rect x="665" y="129" width="1" height="158" fill="#000"/>
<rect x="662" y="146" width="7" height="142" fill="#000"/>
<rect x="663" y="147" width="5" height="140" fill="#ffffff"/>
<rect x="675" y="154" width="1" height="42" fill="#000"/>
<rect x="672" y="154" width="7" height="18" fill="#000"/>
<rect x="673" y="155" width="5" height="16" fill="#2e3240"/>
<rect x="684" y="187" width="1" height="34" fill="#000"/>
<rect x="681" y="187" width="7" height="35" fill="#000"/>
<rect x="682" y="188" width="5" height="33" fill="#2e3240"/>
<rect x="694" y="279" width="1" height="124" fill="#000"/>
<rect x="691" y="295" width="7" height="101" fill="#000"/>
<rect x="692" y="296" width="5" height="99" fill="#2e3240"/>
<rect x="703" y="403" width="1" height="58" fill="#000"/>
<rect x="700" y="403" width="7" height="1" fill="#000"/>
<rect x="713" y="386" width="1" height="42" fill="#000"/>
<rect x="710" y="411" width="7" height="1" fill="#000"/>
<rect x="722" y="403" width="1" height="58" fill="#000"/>
<rect x="719" y="403" width="7" height="51" fill="#000"/>
<rect x="720" y="404" width="5" height="49" fill="#2e3240"/>
<rect x="731" y="444" width="1" height="34" fill="#000"/>
<rect x="728" y="444" width="7" height="18" fill="#000"/>
<rect x="729" y="445" width="5" height="16" fill="#ffffff"/>
<rect x="741" y="453" width="1" height="17" fill="#000"/>
<rect x="738" y="453" width="7" height="17" fill="#000"/>
<rect x="739" y="454" width="5" height="15" fill="#2e3240"/>
<rect x="750" y="469" width="1" height="9" fill="#000"/>
<rect x="747" y="469" width="7" height="1" fill="#000"/>
<rect x="760" y="469" width="1" height="17" fill="#000"/>
<rect x="757" y="469" width="7" height="9" fill="#000"/>
<rect x="758" y="470" width="5" height="7" fill="#ffffff"/>
<rect x="769" y="478" width="1" height="8" fill="#000"/>
<rect x="766" y="478" width="7" height="1" fill="#000"/>
<rect x="779" y="453" width="1" height="25" fill="#000"/>
<rect x="776" y="461" width="7" height="17" fill="#000"/>
<rect x="777" y="462" width="5" height="15" fill="#ffffff"/>
<rect x="788" y="453" width="1" height="17" fill="#000"/>
<rect x="785" y="453" width="7" height="17" fill="#000"/>
<rect x="786" y="454" width="5" height="15" fill="#ffffff"/>
<rect x="797" y="428" width="1" height="25" fill="#000"/>
<rect x="794" y="428" width="7" height="17" fill="#000"/>
<rect x="795" y="429" width="5" height="15" fill="#2e3240"/>
<rect x="807" y="419" width="1" height="51" fill="#000"/>
<rect x="804" y="428" width="7" height="17" fill="#000"/>
<rect x="805" y="429" width="5" height="15" fill="#ffffff"/>
<rect x="816" y="436" width="1" height="25" fill="#000"/>
<rect x="813" y="436" width="7" height="1" fill="#000"/>
<rect x="826" y="428" width="1" height="25" fill="#000"/>
<rect x="823" y="428" width="7" height="9" fill="#000"/>
<rect x="824" y="429" width="5" height="7" fill="#ffffff"/>
<rect x="835" y="419" width="1" height="34" fill="#000"/>
<rect x="832" y="419" width="7" height="18" fill="#000"/>
<rect x="833" y="420" width="5" height="16" fill="#2e3240"/>
<rect x="845" y="419" width="1" height="26" fill="#000"/>
<rect x="842" y="419" width="7" height="18" fill="#000"/>
<rect x="843" y="420" width="5" height="16" fill="#ffffff"/>
<rect x="854" y="411" width="1" height="17" fill="#000"/>
<rect x="851" y="419" width="7" height="1" fill="#000"/>
<rect x="864" y="378" width="1" height="50" fill="#000"/>
<rect x="861" y="395" width="7" height="34" fill="#000"/>
<rect x="862" y="396" width="5" height="32" fill="#ffffff"/>
<rect x="873" y="386" width="1" height="26" fill="#000"/>
<rect x="870" y="386" width="7" height="1" fill="#000"/>
<rect x="882" y="386" width="1" height="26" fill="#000"/>
<rect x="879" y="386" width="7" height="18" fill="#000"/>
<rect x="880" y="387" width="5" height="16" fill="#2e3240"/>
<rect x="892" y="403" width="1" height="9" fill="#000"/>
<rect x="889" y="403" width="7" height="9" fill="#000"/>
<rect x="890" y="404" width="5" height="7" fill="#ffffff"/>
<rect x="901" y="403" width="1" height="25" fill="#000"/>
<rect x="898" y="403" width="7" height="26" fill="#000"/>
<rect x="899" y="404" width="5" height="24" fill="#2e3240"/>
<rect x="911" y="428" width="1" height="25" fill="#000"/>
<rect x="908" y="428" width="7" height="9" fill="#000"/>
<rect x="909" y="429" width="5" height="7" fill="#2e3240"/>
<rect x="920" y="436" width="1" height="17" fill="#000"/>
<rect x="917" y="444" width="7" height="10" fill="#000"/>
<rect x="918" y="445" width="5" height="8" fill="#ffffff"/>
<rect x="930" y="436" width="1" height="17" fill="#000"/>
<rect x="927" y="444" width="7" height="10" fill="#000"/>
<rect x="928" y="445" width="5" height="8" fill="#ffffff"/>
<rect x="939" y="444" width="1" height="17" fill="#000"/>
<rect x="936" y="444" width="7" height="10" fill="#000"/>
<rect x="937" y="445" width="5" height="8" fill="#ffffff"/>
<rect x="948" y="411" width="1" height="42" fill="#000"/>
<rect x="945" y="419" width="7" height="26" fill="#000"/>
<rect x="946" y="420" width="5" height="24" fill="#ffffff"/>
<rect x="958" y="361" width="1" height="51" fill="#000"/>
<rect x="955" y="386" width="7" height="26" fill="#000"/>
<rect x="956" y="387" width="5" height="24" fill="#ffffff"/>
<rect x="967" y="345" width="1" height="42" fill="#000"/>
<rect x="964" y="353" width="7" height="26" fill="#000"/>
<rect x="965" y="354" width="5" height="24" fill="#2e3240"/>
<rect x="977" y="370" width="1" height="33" fill="#000"/>
<rect x="974" y="370" width="7" height="26" fill="#000"/>
<rect x="975" y="371" width="5" height="24" fill="#2e3240"/>
<rect x="986" y="378" width="1" height="25" fill="#000"/>
<rect x="983" y="386" width="7" height="10" fill="#000"/>
<rect x="984" y="387" width="5" height="8" fill="#ffffff"/>
<rect x="996" y="378" width="1" height="17" fill="#000"/>
<rect x="993" y="378" width="7" height="18" fill="#000"/>
<rect x="994" y="379" width="5" height="16" fill="#ffffff"/>
<rect x="1005" y="287" width="1" height="83" fill="#000"/>
<rect x="1002" y="345" width="7" height="26" fill="#000"/>
<rect x="1003" y="346" width="5" height="24" fill="#ffffff"/>
<rect x="1015" y="312" width="1" height="83" fill="#000"/>
<rect x="1012" y="320" width="7" height="26" fill="#000"/>
<rect x="1013" y="321" width="5" height="24" fill="#ffffff"/>
<rect x="1024" y="303" width="1" height="26" fill="#000"/>
<rect x="1021" y="312" width="7" height="9" fill="#000"/>
<rect x="1022" y="313" width="5" height="7" fill="#2e3240"/>
<rect x="1033" y="320" width="1" height="34" fill="#000"/>
<rect x="1030" y="320" width="7" height="34" fill="#000"/>
<rect x="1031" y="321" width="5" height="32" fill="#2e3240"/>
<rect x="1043" y="245" width="1" height="109" fill="#000"/>
<rect x="1040" y="287" width="7" height="67" fill="#000"/>
<rect x="1041" y="288" width="5" height="65" fill="#ffffff"/>
<rect x="1052" y="287" width="1" height="34" fill="#000"/>
<rect x="1049" y="295" width="7" height="9" fill="#000"/>
<rect x="1050" y="296" width="5" height="7" fill="#2e3240"/>
<rect x="1062" y="262" width="1" height="50" fill="#000"/>
<rect x="1059" y="270" width="7" height="34" fill="#000"/>
<rect x="1060" y="271" width="5" height="32" fill="#ffffff"/>
<rect x="1071" y="270" width="1" height="67" fill="#000"/>
<rect x="1068" y="270" width="7" height="68" fill="#000"/>
<rect x="1069" y="271" width="5" height="66" fill="#2e3240"/>
<rect x="1081" y="303" width="1" height="34" fill="#000"/>
<rect x="1078" y="303" width="7" height="35" fill="#000"/>
<rect x="1079" y="304" width="5" height="33" fill="#ffffff"/>
<rect x="1090" y="303" width="1" height="18" fill="#000"/>
<rect x="1087" y="312" width="7" height="1" fill="#000"/>
<rect x="1100" y="295" width="1" height="50" fill="#000"/>
<rect x="1097" y="303" width="7" height="10" fill="#000"/>
<rect x="1098" y="304" width="5" height="8" fill="#ffffff"/>
<rect x="1109" y="295" width="1" height="17" fill="#000"/>
<rect x="1106" y="303" width="7" height="10" fill="#000"/>
<rect x="1107" y="304" width="5" height="8" fill="#ffffff"/>
<rect x="1118" y="312" width="1" height="33" fill="#000"/>
<rect x="1115" y="312" width="7" height="9" fill="#000"/>
<rect x="1116" y="313" width="5" height="7" fill="#ffffff"/>
<rect x="1128" y="312" width="1" height="17" fill="#000"/>
<rect x="1125" y="312" width="7" height="17" fill="#000"/>
<rect x="1126" y="313" width="5" height="15" fill="#ffffff"/>
<rect x="1137" y="303" width="1" height="9" fill="#000"/>
<rect x="1134" y="303" width="7" height="10" fill="#000"/>
<rect x="1135" y="304" width="5" height="8" fill="#ffffff"/>
<rect x="1147" y="270" width="1" height="42" fill="#000"/>
<rect x="1144" y="279" width="7" height="25" fill="#000"/>
<rect x="1145" y="280" width="5" height="23" fill="#ffffff"/>
<rect x="1156" y="287" width="1" height="25" fill="#000"/>
<rect x="1153" y="295" width="7" height="1" fill="#000"/>
<rect x="1166" y="287" width="1" height="17" fill="#000"/>
<rect x="1163" y="295" width="7" height="1" fill="#000"/>
<rect x="1175" y="229" width="1" height="67" fill="#000"/>
<rect x="1172" y="245" width="7" height="51" fill="#000"/>
<rect x="1173" y="246" width="5" height="49" fill="#ffffff"/>
<rect x="1184" y="196" width="1" height="33" fill="#000"/>
<rect x="1181" y="221" width="7" height="9" fill="#000"/>
<rect x="1182" y="222" width="5" height="7" fill="#ffffff"/>
<rect x="1194" y="171" width="1" height="58" fill="#000"/>
<rect x="1191" y="171" width="7" height="51" fill="#000"/>
<rect x="1192" y="172" width="5" height="49" fill="#ffffff"/>
<rect x="1203" y="163" width="1" height="25" fill="#000"/>
<rect x="1200" y="163" width="7" height="1" fill="#000"/>
<rect x="1213" y="171" width="1" height="25" fill="#000"/>
<rect x="1210" y="171" width="7" height="26" fill="#000"/>
<rect x="1211" y="172" width="5" height="24" fill="#2e3240"/>
<rect x="1222" y="179" width="1" height="26" fill="#000"/>
<rect x="1219" y="187" width="7" height="1" fill="#000"/>
<rect x="1232" y="171" width="1" height="17" fill="#000"/>
<rect x="1229" y="171" width="7" height="17" fill="#000"/>
<rect x="1230" y="172" width="5" height="15" fill="#ffffff"/>
<rect x="1241" y="179" width="1" height="9" fill="#000"/>
<rect x="1238" y="179" width="7" height="9" fill="#000"/>
<rect x="1239" y="180" width="5" height="7" fill="#2e3240"/>
<rect x="1251" y="129" width="1" height="67" fill="#000"/>
<rect x="1248" y="129" width="7" height="59" fill="#000"/>
<rect x="1249" y="130" width="5" height="57" fill="#ffffff"/>
<rect x="1260" y="146" width="1" height="34" fill="#000"/>
<rect x="1257" y="146" width="7" height="9" fill="#000"/>
<rect x="1258" y="147" width="5" height="7" fill="#2e3240"/>
<rect x="1269" y="179" width="1" height="75" fill="#000"/>
<rect x="1266" y="179" width="7" height="43" fill="#000"/>
<rect x="1267" y="180" width="5" height="41" fill="#2e3240"/>
<rect x="1279" y="196" width="1" height="33" fill="#000"/>
<rect x="1276" y="204" width="7" height="26" fill="#000"/>
<rect x="1277" y="205" width="5" height="24" fill="#2e3240"/>
<rect x="1288" y="221" width="1" height="42" fill="#000"/>
<rect x="1285" y="221" width="7" height="17" fill="#000"/>
<rect x="1286" y="222" width="5" height="15" fill="#2e3240"/>
<rect x="1298" y="212" width="1" height="51" fill="#000"/>
<rect x="1295" y="221" width="7" height="34" fill="#000"/>
<rect x="1296" y="222" width="5" height="32" fill="#ffffff"/>
<rect x="1307" y="229" width="1" height="17" fill="#000"/>
<rect x="1304" y="229" width="7" height="9" fill="#000"/>
<rect x="1305" y="230" width="5" height="7" fill="#2e3240"/>
<rect x="1317" y="229" width="1" height="25" fill="#000"/>
<rect x="1314" y="237" width="7" height="18" fill="#000"/>
<rect x="1315" y="238" width="5" height="16" fill="#2e3240"/>
<rect x="1326" y="237" width="1" height="42" fill="#000"/>
<rect x="1323" y="237" width="7" height="26" fill="#000"/>
<rect x="1324" y="238" width="5" height="24" fill="#ffffff"/>
<rect x="1336" y="229" width="1" height="25" fill="#000"/>
<rect x="1333" y="237" width="7" height="1" fill="#000"/>
<rect x="1345" y="221" width="1" height="25" fill="#000"/>
<rect x="1342" y="229" width="7" height="9" fill="#000"/>
<rect x="1343" y="230" width="5" height="7" fill="#2e3240"/>
<rect x="1354" y="221" width="1" height="25" fill="#000"/>
<rect x="1351" y="221" width="7" height="17" fill="#000"/>
<rect x="1352" y="222" width="5" height="15" fill="#ffffff"/>
</g>
<rect x="151.20" y="547.1" width="28.5" height="28.7" rx="4" fill="#fff" stroke="#fff" stroke-width="3"/>
<rect x="152.25" y="548.15" width="26.4" height="26.6" rx="3" fill="#fff" stroke="#434651" stroke-width="2.1"/>
<path d="M161.90,555.2 H170.00 V557.1 H164.00 V560.3 H168.20 V562.1 H164.00 V565.9 H170.00 V567.8 H161.90 Z" fill="#434651"/>
<rect x="670.20" y="547.1" width="28.5" height="28.7" rx="4" fill="#fff" stroke="#fff" stroke-width="3"/>
<rect x="671.25" y="548.15" width="26.4" height="26.6" rx="3" fill="#fff" stroke="#434651" stroke-width="2.1"/>
<path d="M680.90,555.2 H689.00 V557.1 H683.00 V560.3 H687.20 V562.1 H683.00 V565.9 H689.00 V567.8 H680.90 Z" fill="#434651"/>
<rect x="1246.20" y="547.1" width="28.5" height="28.7" rx="4" fill="#fff" stroke="#fff" stroke-width="3"/>
<rect x="1247.25" y="548.15" width="26.4" height="26.6" rx="3" fill="#fff" stroke="#434651" stroke-width="2.1"/>
<path d="M1256.90,555.2 H1265.00 V557.1 H1259.00 V560.3 H1263.20 V562.1 H1259.00 V565.9 H1265.00 V567.8 H1256.90 Z" fill="#434651"/>
<circle cx="1354.2" cy="561.35" r="14.4" fill="#fff" stroke="#fff" stroke-width="5.5"/>
<circle cx="1354.2" cy="561.35" r="14.4" fill="#fff" stroke="#9c27b0" stroke-width="1.9"/>
<polygon points="1358.26,553.2 1359.49,554.25 1355.28,560.23 1361.0,560.23 1350.19,569.6 1349.2,568.65 1354.4,562.23 1348.15,562.23" fill="#9c27b0"/>
<defs><clipPath id="cd"><rect x="1330" y="540" width="62" height="42"/></clipPath></defs>
<g clip-path="url(#cd)">
<circle cx="1383.3" cy="561.4" r="14.4" fill="#fff" stroke="#fff" stroke-width="5.9"/>
<circle cx="1383.3" cy="561.4" r="14.4" fill="#fff" stroke="#2962ff" stroke-width="1.9"/>
</g>
<text x="1378.4" y="567.9" font-size="17.8" fill="#2962ff" font-weight="bold" text-anchor="start" textLength="10.6" lengthAdjust="spacingAndGlyphs">D</text>
<g clip-path="url(#cm)">
<line x1="15" y1="634.5" x2="1392" y2="634.5" stroke="#a3a6af" stroke-width="1" stroke-dasharray="5 6"/>
<rect x="10" y="630.7" width="8" height="3.8" fill="#26a69a"/>
<rect x="19" y="630.7" width="8" height="3.8" fill="#26a69a"/>
<rect x="28" y="630.7" width="9" height="3.8" fill="#26a69a"/>
<rect x="38" y="629.9" width="8" height="4.6" fill="#26a69a"/>
<rect x="47" y="628.8" width="9" height="5.7" fill="#26a69a"/>
<rect x="57" y="628.2" width="8" height="6.3" fill="#26a69a"/>
<rect x="66" y="627.3" width="9" height="7.2" fill="#26a69a"/>
<rect x="76" y="627.3" width="8" height="7.2" fill="#b2dfdb"/>
<rect x="85" y="626.4" width="9" height="8.1" fill="#26a69a"/>
<rect x="95" y="626.2" width="8" height="8.3" fill="#26a69a"/>
<rect x="104" y="626.8" width="8" height="7.7" fill="#b2dfdb"/>
<rect x="113" y="627.8" width="9" height="6.7" fill="#b2dfdb"/>
<rect x="123" y="628.8" width="8" height="5.7" fill="#b2dfdb"/>
<rect x="132" y="630.7" width="9" height="3.8" fill="#b2dfdb"/>
<rect x="142" y="631.7" width="8" height="2.8" fill="#b2dfdb"/>
<rect x="151" y="632.4" width="9" height="2.1" fill="#b2dfdb"/>
<rect x="161" y="632.9" width="8" height="1.6" fill="#b2dfdb"/>
<rect x="170" y="634.5" width="8" height="1.9" fill="#ff5252"/>
<rect x="179" y="634.5" width="9" height="3.1" fill="#ff5252"/>
<rect x="189" y="634.5" width="8" height="3.4" fill="#ff5252"/>
<rect x="198" y="634.5" width="9" height="3.8" fill="#ff5252"/>
<rect x="208" y="634.5" width="8" height="3.9" fill="#ff5252"/>
<rect x="217" y="634.5" width="9" height="4.9" fill="#ff5252"/>
<rect x="227" y="634.5" width="8" height="4.6" fill="#ffcdd2"/>
<rect x="236" y="634.5" width="9" height="4.2" fill="#ffcdd2"/>
<rect x="246" y="634.5" width="8" height="3.7" fill="#ffcdd2"/>
<rect x="255" y="634.5" width="8" height="3.2" fill="#ffcdd2"/>
<rect x="264" y="634.5" width="9" height="2.7" fill="#ffcdd2"/>
<rect x="274" y="634.5" width="8" height="3.0" fill="#ff5252"/>
<rect x="283" y="634.5" width="9" height="2.6" fill="#ffcdd2"/>
<rect x="293" y="634.5" width="8" height="2.3" fill="#ffcdd2"/>
<rect x="302" y="634.5" width="9" height="1.5" fill="#ffcdd2"/>
<rect x="312" y="633.5" width="8" height="1.0" fill="#26a69a"/>
<rect x="321" y="634.5" width="8" height="2.0" fill="#ff5252"/>
<rect x="330" y="634.5" width="9" height="2.6" fill="#ff5252"/>
<rect x="340" y="634.5" width="8" height="2.7" fill="#ff5252"/>
<rect x="349" y="634.5" width="9" height="2.3" fill="#ffcdd2"/>
<rect x="359" y="634.5" width="8" height="1.5" fill="#ffcdd2"/>
<rect x="368" y="633.0" width="9" height="1.5" fill="#26a69a"/>
<rect x="378" y="632.4" width="8" height="2.1" fill="#26a69a"/>
<rect x="387" y="629.7" width="9" height="4.8" fill="#26a69a"/>
<rect x="397" y="625.6" width="8" height="8.9" fill="#26a69a"/>
<rect x="406" y="623.8" width="8" height="10.7" fill="#26a69a"/>
<rect x="415" y="621.7" width="9" height="12.8" fill="#26a69a"/>
<rect x="425" y="620.9" width="8" height="13.6" fill="#26a69a"/>
<rect x="434" y="621.5" width="9" height="13.0" fill="#b2dfdb"/>
<rect x="444" y="622.6" width="8" height="11.9" fill="#b2dfdb"/>
<rect x="453" y="625.3" width="9" height="9.2" fill="#b2dfdb"/>
<rect x="463" y="628.3" width="8" height="6.2" fill="#b2dfdb"/>
<rect x="472" y="631.0" width="9" height="3.5" fill="#b2dfdb"/>
<rect x="482" y="632.9" width="8" height="1.6" fill="#b2dfdb"/>
<rect x="491" y="632.0" width="8" height="2.5" fill="#26a69a"/>
<rect x="500" y="632.4" width="9" height="2.1" fill="#b2dfdb"/>
<rect x="510" y="628.8" width="8" height="5.7" fill="#26a69a"/>
<rect x="519" y="625.0" width="9" height="9.5" fill="#26a69a"/>
<rect x="529" y="621.1" width="8" height="13.4" fill="#26a69a"/>
<rect x="538" y="620.2" width="9" height="14.3" fill="#26a69a"/>
<rect x="548" y="618.3" width="8" height="16.2" fill="#26a69a"/>
<rect x="557" y="622.2" width="8" height="12.3" fill="#b2dfdb"/>
<rect x="566" y="625.5" width="9" height="9.0" fill="#b2dfdb"/>
<rect x="576" y="627.9" width="8" height="6.6" fill="#b2dfdb"/>
<rect x="585" y="631.2" width="9" height="3.3" fill="#b2dfdb"/>
<rect x="595" y="633.2" width="8" height="1.3" fill="#b2dfdb"/>
<rect x="604" y="634.5" width="9" height="1.6" fill="#ff5252"/>
<rect x="614" y="634.5" width="8" height="2.4" fill="#ff5252"/>
<rect x="623" y="634.5" width="9" height="3.9" fill="#ff5252"/>
<rect x="633" y="634.5" width="8" height="5.0" fill="#ff5252"/>
<rect x="642" y="634.5" width="8" height="6.5" fill="#ff5252"/>
<rect x="651" y="634.5" width="9" height="8.8" fill="#ff5252"/>
<rect x="661" y="634.5" width="8" height="4.3" fill="#ffcdd2"/>
<rect x="670" y="634.5" width="9" height="2.6" fill="#ffcdd2"/>
<rect x="680" y="634.5" width="8" height="4.0" fill="#ff5252"/>
<rect x="689" y="634.5" width="9" height="12.6" fill="#ff5252"/>
<rect x="699" y="634.5" width="8" height="17.9" fill="#ff5252"/>
<rect x="708" y="634.5" width="9" height="21.0" fill="#ff5252"/>
<rect x="718" y="634.5" width="8" height="23.8" fill="#ff5252"/>
<rect x="727" y="634.5" width="8" height="24.0" fill="#ff5252"/>
<rect x="736" y="634.5" width="9" height="24.1" fill="#ff5252"/>
<rect x="746" y="634.5" width="8" height="22.9" fill="#ffcdd2"/>
<rect x="755" y="634.5" width="9" height="21.0" fill="#ffcdd2"/>
<rect x="765" y="634.5" width="8" height="18.9" fill="#ffcdd2"/>
<rect x="774" y="634.5" width="9" height="15.8" fill="#ffcdd2"/>
<rect x="784" y="634.5" width="8" height="12.5" fill="#ffcdd2"/>
<rect x="793" y="634.5" width="8" height="9.2" fill="#ffcdd2"/>
<rect x="802" y="634.5" width="9" height="5.8" fill="#ffcdd2"/>
<rect x="812" y="634.5" width="8" height="3.5" fill="#ffcdd2"/>
<rect x="821" y="634.5" width="9" height="1.3" fill="#ffcdd2"/>
<rect x="831" y="632.5" width="8" height="2.0" fill="#26a69a"/>
<rect x="840" y="630.7" width="9" height="3.8" fill="#26a69a"/>
<rect x="850" y="629.5" width="8" height="5.0" fill="#26a69a"/>
<rect x="859" y="627.6" width="9" height="6.9" fill="#26a69a"/>
<rect x="869" y="626.2" width="8" height="8.3" fill="#26a69a"/>
<rect x="878" y="626.1" width="8" height="8.4" fill="#26a69a"/>
<rect x="887" y="626.3" width="9" height="8.2" fill="#b2dfdb"/>
<rect x="897" y="627.7" width="8" height="6.8" fill="#b2dfdb"/>
<rect x="906" y="629.1" width="9" height="5.4" fill="#b2dfdb"/>
<rect x="916" y="630.4" width="8" height="4.1" fill="#b2dfdb"/>
<rect x="925" y="631.2" width="9" height="3.3" fill="#b2dfdb"/>
<rect x="935" y="631.7" width="8" height="2.8" fill="#b2dfdb"/>
<rect x="944" y="630.9" width="8" height="3.6" fill="#26a69a"/>
<rect x="953" y="628.9" width="9" height="5.6" fill="#26a69a"/>
<rect x="963" y="627.4" width="8" height="7.1" fill="#26a69a"/>
<rect x="972" y="627.4" width="9" height="7.1" fill="#b2dfdb"/>
<rect x="982" y="627.3" width="8" height="7.2" fill="#26a69a"/>
<rect x="991" y="627.0" width="9" height="7.5" fill="#26a69a"/>
<rect x="1001" y="625.7" width="8" height="8.8" fill="#26a69a"/>
<rect x="1010" y="624.1" width="9" height="10.4" fill="#26a69a"/>
<rect x="1020" y="623.6" width="8" height="10.9" fill="#26a69a"/>
<rect x="1029" y="625.3" width="8" height="9.2" fill="#b2dfdb"/>
<rect x="1038" y="623.8" width="9" height="10.7" fill="#26a69a"/>
<rect x="1048" y="624.2" width="8" height="10.3" fill="#b2dfdb"/>
<rect x="1057" y="623.5" width="9" height="11.0" fill="#26a69a"/>
<rect x="1067" y="626.6" width="8" height="7.9" fill="#b2dfdb"/>
<rect x="1076" y="627.5" width="9" height="7.0" fill="#b2dfdb"/>
<rect x="1086" y="628.9" width="8" height="5.6" fill="#b2dfdb"/>
<rect x="1095" y="629.7" width="9" height="4.8" fill="#b2dfdb"/>
<rect x="1105" y="630.6" width="8" height="3.9" fill="#b2dfdb"/>
<rect x="1114" y="631.8" width="8" height="2.7" fill="#b2dfdb"/>
<rect x="1123" y="632.8" width="9" height="1.7" fill="#b2dfdb"/>
<rect x="1133" y="633.2" width="8" height="1.3" fill="#b2dfdb"/>
<rect x="1142" y="632.5" width="9" height="2.0" fill="#26a69a"/>
<rect x="1152" y="633.0" width="8" height="1.5" fill="#b2dfdb"/>
<rect x="1161" y="633.5" width="9" height="1.0" fill="#b2dfdb"/>
<rect x="1171" y="631.7" width="8" height="2.8" fill="#26a69a"/>
<rect x="1180" y="629.8" width="8" height="4.7" fill="#26a69a"/>
<rect x="1189" y="626.7" width="9" height="7.8" fill="#26a69a"/>
<rect x="1199" y="624.9" width="8" height="9.6" fill="#26a69a"/>
<rect x="1208" y="625.9" width="9" height="8.6" fill="#b2dfdb"/>
<rect x="1218" y="626.8" width="8" height="7.7" fill="#b2dfdb"/>
<rect x="1227" y="627.2" width="9" height="7.3" fill="#b2dfdb"/>
<rect x="1237" y="628.7" width="8" height="5.8" fill="#b2dfdb"/>
<rect x="1246" y="627.6" width="9" height="6.9" fill="#26a69a"/>
<rect x="1256" y="628.6" width="8" height="5.9" fill="#b2dfdb"/>
<rect x="1265" y="632.7" width="8" height="1.8" fill="#b2dfdb"/>
<rect x="1274" y="634.5" width="9" height="3.4" fill="#ff5252"/>
<rect x="1284" y="634.5" width="8" height="6.0" fill="#ff5252"/>
<rect x="1293" y="634.5" width="9" height="6.8" fill="#ff5252"/>
<rect x="1303" y="634.5" width="8" height="8.0" fill="#ff5252"/>
<rect x="1312" y="634.5" width="9" height="9.4" fill="#ff5252"/>
<rect x="1322" y="634.5" width="8" height="9.3" fill="#ffcdd2"/>
<rect x="1331" y="634.5" width="9" height="9.0" fill="#ffcdd2"/>
<rect x="1341" y="634.5" width="8" height="8.5" fill="#ffcdd2"/>
<rect x="1350" y="634.5" width="8" height="7.3" fill="#ffcdd2"/>
<polyline points="14.5,647.5 23.5,646.8 33.5,646.0 42.5,644.4 52.5,642.1 61.5,640.2 71.5,637.7 80.5,636.1 90.5,633.5 99.5,631.5 108.5,630.4 118.5,630.0 127.5,629.7 137.5,631.0 146.5,631.5 156.5,631.9 165.5,632.3 174.5,634.0 184.5,635.7 193.5,636.7 203.5,637.8 212.5,638.6 222.5,640.6 231.5,641.2 241.5,641.5 250.5,641.7 259.5,641.8 269.5,641.7 278.5,642.5 288.5,642.5 297.5,642.5 307.5,641.9 316.5,641.3 325.5,642.6 335.5,643.5 344.5,644.2 354.5,644.1 363.5,643.4 373.5,642.3 382.5,641.4 392.5,637.8 401.5,631.7 410.5,627.5 420.5,622.4 429.5,618.5 439.5,616.1 448.5,614.4 458.5,615.1 467.5,616.8 477.5,618.8 486.5,620.6 495.5,619.3 505.5,619.4 514.5,614.6 524.5,608.8 533.5,601.7 543.5,597.5 552.5,591.8 561.5,592.9 571.5,594.2 580.5,595.3 590.5,597.9 599.5,599.9 609.5,600.9 618.5,602.1 628.5,604.3 637.5,606.4 646.5,609.2 656.5,613.6 665.5,609.8 675.5,608.6 684.5,610.6 694.5,622.1 703.5,631.8 713.5,639.8 722.5,648.3 731.5,654.3 741.5,660.2 750.5,664.4 760.5,667.5 769.5,669.9 779.5,670.5 788.5,670.1 797.5,668.8 807.5,666.6 816.5,664.9 826.5,662.8 835.5,661.2 845.5,658.8 854.5,656.6 864.5,653.2 873.5,649.9 882.5,648.0 892.5,646.4 901.5,646.4 911.5,646.7 920.5,647.2 930.5,647.4 939.5,647.5 948.5,646.0 958.5,642.9 967.5,639.8 977.5,638.3 986.5,636.6 996.5,634.8 1005.5,631.5 1015.5,627.6 1024.5,624.6 1033.5,624.2 1043.5,620.3 1052.5,618.3 1062.5,615.1 1071.5,616.5 1081.5,615.9 1090.5,616.1 1100.5,616.0 1109.5,616.2 1118.5,616.9 1128.5,617.7 1137.5,618.1 1147.5,617.1 1156.5,617.5 1166.5,618.0 1175.5,615.8 1184.5,612.9 1194.5,608.1 1203.5,604.2 1213.5,603.3 1222.5,602.5 1232.5,601.3 1241.5,601.6 1251.5,599.1 1260.5,598.8 1269.5,602.7 1279.5,606.5 1288.5,610.3 1298.5,612.6 1307.5,615.6 1317.5,619.1 1326.5,621.0 1336.5,622.7 1345.5,624.1 1354.5,624.4" fill="none" stroke="#2962ff" stroke-width="1.6" stroke-linejoin="round" stroke-linecap="round"/>
<polyline points="14.5,650.3 23.5,649.6 33.5,648.9 42.5,648.0 52.5,646.8 61.5,645.5 71.5,643.9 80.5,642.3 90.5,640.6 99.5,638.8 108.5,637.1 118.5,635.7 127.5,634.5 137.5,633.8 146.5,633.3 156.5,633.0 165.5,632.9 174.5,633.1 184.5,633.6 193.5,634.2 203.5,634.9 212.5,635.7 222.5,636.7 231.5,637.6 241.5,638.4 250.5,639.0 259.5,639.6 269.5,640.0 278.5,640.5 288.5,640.9 297.5,641.2 307.5,641.4 316.5,641.3 325.5,641.6 335.5,642.0 344.5,642.4 354.5,642.8 363.5,642.9 373.5,642.8 382.5,642.5 392.5,641.6 401.5,639.6 410.5,637.2 420.5,634.2 429.5,631.1 439.5,628.1 448.5,625.3 458.5,623.3 467.5,622.0 477.5,621.4 486.5,621.2 495.5,620.8 505.5,620.5 514.5,619.4 524.5,617.2 533.5,614.1 543.5,610.8 552.5,607.0 561.5,604.2 571.5,602.2 580.5,600.8 590.5,600.2 599.5,600.2 609.5,600.3 618.5,600.7 628.5,601.4 637.5,602.4 646.5,603.8 656.5,605.7 665.5,606.5 675.5,607.0 684.5,607.7 694.5,610.6 703.5,614.8 713.5,619.8 722.5,625.5 731.5,631.3 741.5,637.0 750.5,642.5 760.5,647.5 769.5,652.0 779.5,655.7 788.5,658.6 797.5,660.6 807.5,661.8 816.5,662.4 826.5,662.5 835.5,662.2 845.5,661.5 854.5,660.6 864.5,659.1 873.5,657.2 882.5,655.4 892.5,653.6 901.5,652.2 911.5,651.1 920.5,650.3 930.5,649.7 939.5,649.3 948.5,648.6 958.5,647.5 967.5,645.9 977.5,644.4 986.5,642.9 996.5,641.2 1005.5,639.3 1015.5,636.9 1024.5,634.5 1033.5,632.4 1043.5,630.0 1052.5,627.6 1062.5,625.1 1071.5,623.4 1081.5,621.9 1090.5,620.7 1100.5,619.8 1109.5,619.1 1118.5,618.6 1128.5,618.5 1137.5,618.4 1147.5,618.1 1156.5,618.0 1166.5,618.0 1175.5,617.6 1184.5,616.6 1194.5,614.9 1203.5,612.8 1213.5,610.9 1222.5,609.2 1232.5,607.6 1241.5,606.4 1251.5,605.0 1260.5,603.7 1269.5,603.5 1279.5,604.1 1288.5,605.4 1298.5,606.8 1307.5,608.6 1317.5,610.7 1326.5,612.7 1336.5,614.7 1345.5,616.6 1354.5,618.2" fill="none" stroke="#f23645" stroke-width="1.6" stroke-linejoin="round" stroke-linecap="round"/>
</g>
<g clip-path="url(#cr)">
<rect x="15" y="700.8" width="1377" height="51.0" fill="#7e57c2" fill-opacity="0.01"/>
<path d="M15,700.8 L14.5,700.8 L23.5,700.8 L33.5,700.8 L42.5,700.8 L52.5,700.8 L61.5,700.8 L71.5,700.8 L80.5,700.8 L90.5,700.8 L99.5,700.8 L108.5,700.8 L118.5,700.8 L127.5,700.8 L137.5,700.8 L146.5,700.8 L156.5,700.8 L165.5,700.8 L174.5,700.8 L184.5,700.8 L193.5,700.8 L203.5,700.8 L212.5,700.8 L222.5,700.8 L231.5,700.8 L241.5,700.8 L250.5,700.8 L259.5,700.8 L269.5,700.8 L278.5,700.8 L288.5,700.8 L297.5,700.8 L307.5,700.8 L316.5,700.8 L325.5,700.8 L335.5,700.8 L344.5,700.8 L354.5,700.8 L363.5,700.8 L373.5,700.8 L382.5,700.8 L392.5,700.8 L401.5,694.5 L410.5,698.6 L420.5,692.9 L429.5,692.9 L439.5,697.2 L448.5,697.2 L458.5,700.8 L467.5,700.8 L477.5,700.8 L486.5,700.8 L495.5,700.8 L505.5,700.8 L514.5,698.5 L524.5,693.7 L533.5,689.2 L543.5,694.2 L552.5,689.8 L561.5,700.8 L571.5,700.8 L580.5,700.8 L590.5,700.8 L599.5,700.8 L609.5,700.8 L618.5,700.8 L628.5,700.8 L637.5,700.8 L646.5,700.8 L656.5,700.8 L665.5,700.8 L675.5,700.8 L684.5,700.8 L694.5,700.8 L703.5,700.8 L713.5,700.8 L722.5,700.8 L731.5,700.8 L741.5,700.8 L750.5,700.8 L760.5,700.8 L769.5,700.8 L779.5,700.8 L788.5,700.8 L797.5,700.8 L807.5,700.8 L816.5,700.8 L826.5,700.8 L835.5,700.8 L845.5,700.8 L854.5,700.8 L864.5,700.8 L873.5,700.8 L882.5,700.8 L892.5,700.8 L901.5,700.8 L911.5,700.8 L920.5,700.8 L930.5,700.8 L939.5,700.8 L948.5,700.8 L958.5,700.8 L967.5,700.8 L977.5,700.8 L986.5,700.8 L996.5,700.8 L1005.5,700.8 L1015.5,700.8 L1024.5,700.8 L1033.5,700.8 L1043.5,700.8 L1052.5,700.8 L1062.5,700.8 L1071.5,700.8 L1081.5,700.8 L1090.5,700.8 L1100.5,700.8 L1109.5,700.8 L1118.5,700.8 L1128.5,700.8 L1137.5,700.8 L1147.5,700.8 L1156.5,700.8 L1166.5,700.8 L1175.5,700.8 L1184.5,700.8 L1194.5,695.8 L1203.5,694.9 L1213.5,700.8 L1222.5,700.8 L1232.5,700.8 L1241.5,700.8 L1251.5,698.8 L1260.5,700.8 L1269.5,700.8 L1279.5,700.8 L1288.5,700.8 L1298.5,700.8 L1307.5,700.8 L1317.5,700.8 L1326.5,700.8 L1336.5,700.8 L1345.5,700.8 L1354.5,700.8 L1392,700.8 Z" fill="url(#ob)"/>
<line x1="15" y1="700.5" x2="1392" y2="700.5" stroke="#ee4f86" stroke-width="1"/>
<line x1="15" y1="751.5" x2="1392" y2="751.5" stroke="#ee4f86" stroke-width="1"/>
<line x1="15" y1="726.25" x2="1392" y2="726.25" stroke="#a3a6af" stroke-width="1" stroke-dasharray="5 6"/>
<polyline points="14.5,733.3 23.5,733.3 33.5,733.3 42.5,726.9 52.5,721.2 61.5,721.2 71.5,715.8 80.5,719.3 90.5,711.7 99.5,711.7 108.5,715.6 118.5,719.3 127.5,719.3 137.5,729.8 146.5,726.4 156.5,726.4 165.5,726.4 174.5,736.6 184.5,739.5 193.5,735.2 203.5,738.3 212.5,738.3 222.5,746.7 231.5,737.9 241.5,737.9 250.5,737.9 259.5,737.9 269.5,737.9 278.5,744.8 288.5,739.3 297.5,739.3 307.5,733.8 316.5,733.8 325.5,747.8 335.5,747.8 344.5,747.8 354.5,741.7 363.5,736.0 373.5,730.7 382.5,730.7 392.5,707.9 401.5,694.5 410.5,698.6 420.5,692.9 429.5,692.9 439.5,697.2 448.5,697.2 458.5,712.8 467.5,719.3 477.5,722.3 486.5,722.3 495.5,708.6 505.5,714.8 514.5,698.5 524.5,693.7 533.5,689.2 543.5,694.2 552.5,689.8 561.5,711.3 571.5,711.3 580.5,710.2 590.5,715.6 599.5,714.3 609.5,711.8 618.5,711.8 628.5,716.0 637.5,716.0 646.5,720.2 656.5,727.9 665.5,706.8 675.5,711.9 684.5,721.0 694.5,742.0 703.5,742.8 713.5,743.5 722.5,747.3 731.5,745.8 741.5,748.1 750.5,748.1 760.5,748.1 769.5,749.0 779.5,745.2 788.5,743.3 797.5,741.4 807.5,737.5 816.5,738.8 826.5,736.7 835.5,738.3 845.5,733.9 854.5,733.9 864.5,727.3 873.5,725.3 882.5,729.4 892.5,729.4 901.5,735.5 911.5,737.4 920.5,739.3 930.5,739.3 939.5,739.3 948.5,730.2 958.5,720.3 967.5,718.1 977.5,723.5 986.5,721.1 996.5,718.8 1005.5,710.4 1015.5,705.3 1024.5,705.3 1033.5,717.3 1043.5,704.5 1052.5,709.6 1062.5,704.2 1071.5,721.0 1081.5,715.5 1090.5,717.3 1100.5,715.9 1109.5,715.9 1118.5,718.1 1128.5,718.1 1137.5,716.2 1147.5,711.0 1156.5,716.2 1166.5,716.2 1175.5,706.3 1184.5,702.3 1194.5,695.8 1203.5,694.9 1213.5,705.3 1222.5,704.0 1232.5,701.6 1241.5,706.8 1251.5,698.8 1260.5,705.8 1269.5,721.1 1279.5,722.7 1288.5,724.4 1298.5,721.2 1307.5,724.8 1317.5,728.3 1326.5,724.7 1336.5,724.7 1345.5,724.7 1354.5,720.8" fill="none" stroke="#f0608f" stroke-width="1.6" stroke-linejoin="round" stroke-linecap="round"/>
</g>
<text x="27.0" y="69.8" font-size="17.6" fill="#131722" font-weight="normal" text-anchor="start" textLength="314.0" lengthAdjust="spacingAndGlyphs">CARIMIN PETROLEUM BERHAD, 1D, MYX</text>
<text x="352.0" y="69.8" font-size="17.6" fill="#131722" font-weight="normal" text-anchor="start" textLength="56.0" lengthAdjust="spacingAndGlyphs">O0.945</text>
<text x="418.5" y="69.8" font-size="17.6" fill="#131722" font-weight="normal" text-anchor="start" textLength="56.0" lengthAdjust="spacingAndGlyphs">H0.955</text>
<text x="485.5" y="69.8" font-size="17.6" fill="#131722" font-weight="normal" text-anchor="start" textLength="54.5" lengthAdjust="spacingAndGlyphs">L0.940</text>
<text x="551.0" y="69.8" font-size="17.6" fill="#131722" font-weight="normal" text-anchor="start" textLength="55.0" lengthAdjust="spacingAndGlyphs">C0.955</text>
<text x="617.0" y="69.8" font-size="17.6" fill="#131722" font-weight="normal" text-anchor="start" textLength="53.5" lengthAdjust="spacingAndGlyphs">+0.010</text>
<text x="675.0" y="69.8" font-size="17.6" fill="#131722" font-weight="normal" text-anchor="start" textLength="70.0" lengthAdjust="spacingAndGlyphs">(+1.06%)</text>
<text x="26.0" y="95.7" font-size="17.6" fill="#131722" font-weight="normal" text-anchor="start" textLength="203.0" lengthAdjust="spacingAndGlyphs">EMA (9, close, 0, EMA, 9)</text>
<text x="239.5" y="95.7" font-size="17.6" fill="#2962ff" font-weight="normal" text-anchor="start" textLength="44.0" lengthAdjust="spacingAndGlyphs">0.951</text>
<text x="26.0" y="121.7" font-size="17.6" fill="#131722" font-weight="normal" text-anchor="start" textLength="222.5" lengthAdjust="spacingAndGlyphs">EMA (20, close, 0, EMA, 20)</text>
<text x="258.0" y="121.7" font-size="17.6" fill="#f23645" font-weight="normal" text-anchor="start" textLength="45.0" lengthAdjust="spacingAndGlyphs">0.948</text>
<text x="26.0" y="147.4" font-size="17.6" fill="#131722" font-weight="normal" text-anchor="start" textLength="231.5" lengthAdjust="spacingAndGlyphs">EMA (120, close, 0, EMA, 12)</text>
<text x="267.5" y="147.4" font-size="17.6" fill="#22ab94" font-weight="normal" text-anchor="start" textLength="45.5" lengthAdjust="spacingAndGlyphs">0.893</text>
<text x="27.0" y="173.6" font-size="17.6" fill="#131722" font-weight="normal" text-anchor="start" textLength="228.0" lengthAdjust="spacingAndGlyphs">SMA (200, close, 0, SMA, 20)</text>
<text x="266.5" y="173.6" font-size="17.6" fill="#9c27b0" font-weight="normal" text-anchor="start" textLength="44.0" lengthAdjust="spacingAndGlyphs">0.878</text>
<text x="28.0" y="199.3" font-size="17.6" fill="#131722" font-weight="normal" text-anchor="start" textLength="23.5" lengthAdjust="spacingAndGlyphs">Vol</text>
<text x="61.5" y="199.3" font-size="17.6" fill="#26a69a" font-weight="normal" text-anchor="start" textLength="58.0" lengthAdjust="spacingAndGlyphs">208.6 K</text>
<text x="26.5" y="610.7" font-size="17.6" fill="#131722" font-weight="normal" text-anchor="start" textLength="278.0" lengthAdjust="spacingAndGlyphs">MACD (12, 26, close, 9, EMA, EMA)</text>
<text x="315.0" y="610.7" font-size="17.6" fill="#ffcdd2" font-weight="normal" text-anchor="start" textLength="55.5" lengthAdjust="spacingAndGlyphs">−0.005</text>
<text x="381.0" y="610.7" font-size="17.6" fill="#2962ff" font-weight="normal" text-anchor="start" textLength="44.0" lengthAdjust="spacingAndGlyphs">0.008</text>
<text x="435.5" y="610.7" font-size="17.6" fill="#f23645" font-weight="normal" text-anchor="start" textLength="44.5" lengthAdjust="spacingAndGlyphs">0.013</text>
<text x="26.5" y="709.8" font-size="17.6" fill="#131722" font-weight="normal" text-anchor="start" textLength="211.0" lengthAdjust="spacingAndGlyphs">RSI (14, close, SMA, 14, 2)</text>
<text x="249.0" y="709.8" font-size="17.6" fill="#ec4f86" font-weight="normal" text-anchor="start" textLength="45.0" lengthAdjust="spacingAndGlyphs">54.28</text>
<text x="304.5" y="709.8" font-size="17.6" fill="#fdd835" font-weight="normal" text-anchor="start" textLength="44.0" lengthAdjust="spacingAndGlyphs">56.55</text>
<text x="360.0" y="709.8" font-size="17.6" fill="#131722" font-weight="normal" text-anchor="start" textLength="10.0" lengthAdjust="spacingAndGlyphs">Ø</text>
<text x="382.5" y="709.8" font-size="17.6" fill="#131722" font-weight="normal" text-anchor="start" textLength="10.5" lengthAdjust="spacingAndGlyphs">Ø</text>
<text x="1403.9" y="86.7" font-size="17.4" fill="#131722" font-weight="normal" text-anchor="start" textLength="34.2" lengthAdjust="spacingAndGlyphs">1.04</text>
<text x="1403.9" y="153.0" font-size="17.4" fill="#131722" font-weight="normal" text-anchor="start" textLength="34.2" lengthAdjust="spacingAndGlyphs">1.00</text>
<text x="1403.9" y="219.3" font-size="17.4" fill="#131722" font-weight="normal" text-anchor="start" textLength="44.2" lengthAdjust="spacingAndGlyphs">0.960</text>
<text x="1403.9" y="351.9" font-size="17.4" fill="#131722" font-weight="normal" text-anchor="start" textLength="44.2" lengthAdjust="spacingAndGlyphs">0.880</text>
<text x="1403.9" y="418.2" font-size="17.4" fill="#131722" font-weight="normal" text-anchor="start" textLength="44.2" lengthAdjust="spacingAndGlyphs">0.840</text>
<text x="1403.9" y="484.5" font-size="17.4" fill="#131722" font-weight="normal" text-anchor="start" textLength="44.2" lengthAdjust="spacingAndGlyphs">0.800</text>
<text x="1403.9" y="550.8" font-size="17.4" fill="#131722" font-weight="normal" text-anchor="start" textLength="44.2" lengthAdjust="spacingAndGlyphs">0.760</text>
<text x="1403.9" y="640.9" font-size="17.4" fill="#131722" font-weight="normal" text-anchor="start" textLength="44.2" lengthAdjust="spacingAndGlyphs">0.000</text>
<text x="1403.9" y="694.4" font-size="17.4" fill="#131722" font-weight="normal" text-anchor="start" textLength="44.2" lengthAdjust="spacingAndGlyphs">80.00</text>
<text x="1403.9" y="745.4" font-size="17.4" fill="#131722" font-weight="normal" text-anchor="start" textLength="44.2" lengthAdjust="spacingAndGlyphs">40.00</text>
<path d="M1392,82.3 H1444.6 Q1447.6,82.3 1447.6,85.3 V105.7 Q1447.6,108.7 1444.6,108.7 H1392 Z" fill="#2962ff"/>
<text x="1403.8" y="101.8" font-size="17.8" fill="#ffffff" font-weight="bold" text-anchor="start" textLength="33.6" lengthAdjust="spacingAndGlyphs">1.03</text>
<path d="M1392,118.1 H1444.6 Q1447.6,118.1 1447.6,121.1 V141.5 Q1447.6,144.5 1444.6,144.5 H1392 Z" fill="#2962ff"/>
<text x="1403.8" y="137.6" font-size="17.8" fill="#ffffff" font-weight="bold" text-anchor="start" textLength="33.6" lengthAdjust="spacingAndGlyphs">1.01</text>
<path d="M1392,207.3 H1453.9 Q1456.9,207.3 1456.9,210.3 V230.7 Q1456.9,233.7 1453.9,233.7 H1392 Z" fill="#2962ff"/>
<text x="1403.8" y="226.8" font-size="17.8" fill="#ffffff" font-weight="bold" text-anchor="start" textLength="44" lengthAdjust="spacingAndGlyphs">0.955</text>
<path d="M1392,264.3 H1453.4 Q1456.4,264.3 1456.4,267.3 V287.7 Q1456.4,290.7 1453.4,290.7 H1392 Z" fill="#2962ff"/>
<text x="1403.8" y="283.8" font-size="17.8" fill="#ffffff" font-weight="bold" text-anchor="start" textLength="44" lengthAdjust="spacingAndGlyphs">0.920</text>
<path d="M1392,555.2 H1467 Q1470,555.2 1470,558.2 V578 Q1470,581 1467,581 H1392 Z" fill="#26a69a"/>
<text x="1403.7" y="574.2" font-size="17.8" fill="#ffffff" font-weight="bold" text-anchor="start" textLength="58" lengthAdjust="spacingAndGlyphs">208.6 K</text>
<text x="158.5" y="786.9" font-size="17.8" fill="#131722" font-weight="normal" text-anchor="start" textLength="31.0" lengthAdjust="spacingAndGlyphs">Dec</text>
<text x="546.5" y="786.9" font-size="17.8" fill="#131722" font-weight="normal" text-anchor="start" textLength="30.0" lengthAdjust="spacingAndGlyphs">Feb</text>
<text x="725.0" y="786.9" font-size="17.8" fill="#131722" font-weight="normal" text-anchor="start" textLength="30.0" lengthAdjust="spacingAndGlyphs">Mar</text>
<text x="916.0" y="786.9" font-size="17.8" fill="#131722" font-weight="normal" text-anchor="start" textLength="27.0" lengthAdjust="spacingAndGlyphs">Apr</text>
<text x="1102.0" y="786.9" font-size="17.8" fill="#131722" font-weight="normal" text-anchor="start" textLength="31.5" lengthAdjust="spacingAndGlyphs">May</text>
<text x="1302.5" y="786.9" font-size="17.8" fill="#131722" font-weight="normal" text-anchor="start" textLength="29.0" lengthAdjust="spacingAndGlyphs">Jun</text>
<text x="343.0" y="786.9" font-size="17.8" fill="#131722" font-weight="normal" text-anchor="start" textLength="41.5" lengthAdjust="spacingAndGlyphs" stroke="#131722" stroke-width="0.5">2024</text>
<path d="M15.2,819.1 H27.2 V834.1 H20.2 V825 H15.2 Z" fill="#131722"/>
<circle cx="31.6" cy="822" r="2.8" fill="#131722"/>
<path d="M35.8,819.1 H44.3 L39.5,834.1 H32 Z" fill="#131722"/>
<text x="49.5" y="834.7" font-size="20.2" fill="#131722" font-weight="normal" text-anchor="start" textLength="105.5" lengthAdjust="spacingAndGlyphs">TradingView</text>
</svg></body></html>
